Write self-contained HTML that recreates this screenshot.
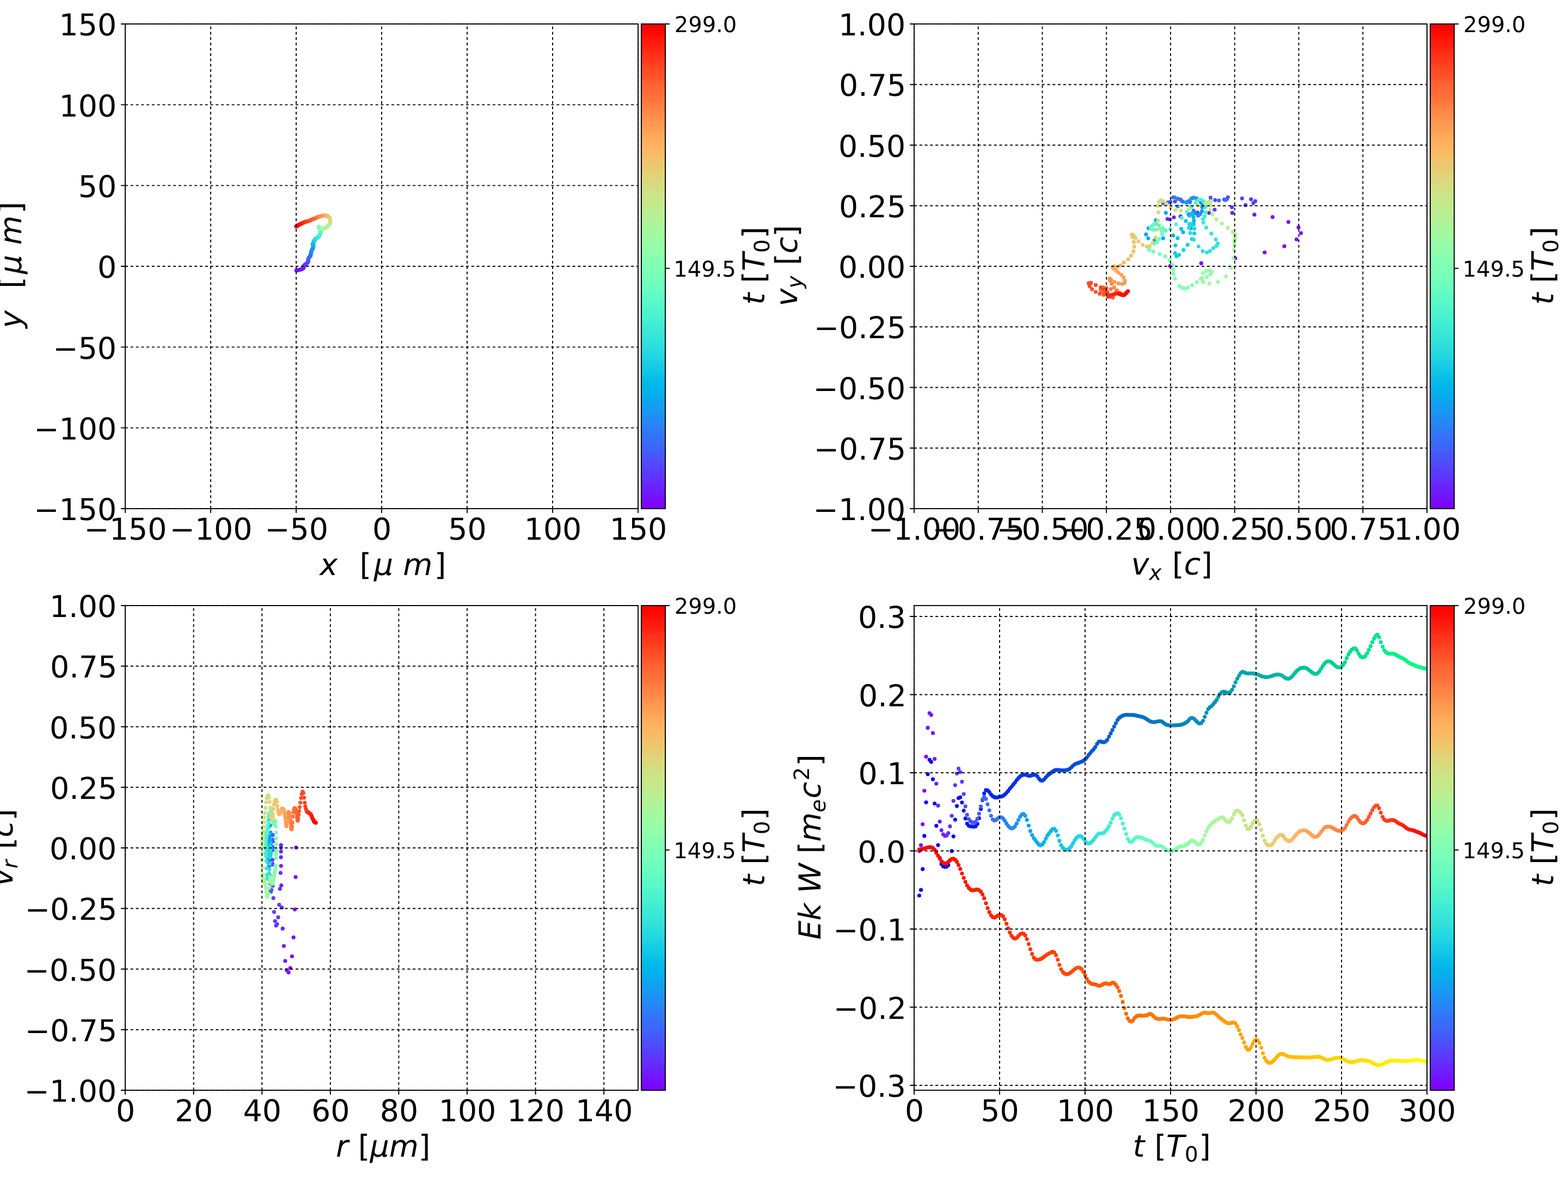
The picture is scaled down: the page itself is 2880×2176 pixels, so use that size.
<!DOCTYPE html>
<html lang="en"><head><meta charset="utf-8"><title>Particle trajectory: x-y, vx-vy, r-vr, Ek W vs t</title>
<style>
html,body{margin:0;padding:0;background:#fff}
body{width:2880px;height:2176px;overflow:hidden}
svg{display:block}
text{font-family:"DejaVu Sans","Liberation Sans",sans-serif;fill:#000;text-rendering:geometricPrecision}
text.i{font-style:oblique}
.s{fill:none;stroke:#000;stroke-width:1.9;stroke-linecap:butt;stroke-linejoin:miter}
.g{fill:none;stroke:#000;stroke-width:1.9;stroke-dasharray:5 4.78}
circle{r:3.6px}
</style></head><body>
<svg xmlns="http://www.w3.org/2000/svg" width="2880" height="2176" viewBox="0 0 2880 2176">
<defs>
<linearGradient id="g1" x1="0" y1="1" x2="0" y2="0"><stop offset="0" stop-color="#8000ff"/><stop offset="0.02" stop-color="#780dff"/><stop offset="0.03" stop-color="#7019ff"/><stop offset="0.05" stop-color="#6826fe"/><stop offset="0.06" stop-color="#6032fe"/><stop offset="0.08" stop-color="#583efd"/><stop offset="0.09" stop-color="#504afc"/><stop offset="0.11" stop-color="#4856fb"/><stop offset="0.12" stop-color="#4062fa"/><stop offset="0.14" stop-color="#386df9"/><stop offset="0.16" stop-color="#3079f7"/><stop offset="0.17" stop-color="#2884f6"/><stop offset="0.19" stop-color="#208ef4"/><stop offset="0.2" stop-color="#1898f2"/><stop offset="0.22" stop-color="#10a2f0"/><stop offset="0.23" stop-color="#08acee"/><stop offset="0.25" stop-color="#00b5eb"/><stop offset="0.27" stop-color="#08bee9"/><stop offset="0.28" stop-color="#10c6e6"/><stop offset="0.3" stop-color="#18cde4"/><stop offset="0.31" stop-color="#20d5e1"/><stop offset="0.33" stop-color="#28dbde"/><stop offset="0.34" stop-color="#30e1da"/><stop offset="0.36" stop-color="#38e7d7"/><stop offset="0.38" stop-color="#40ecd4"/><stop offset="0.39" stop-color="#48f1d0"/><stop offset="0.41" stop-color="#50f4cc"/><stop offset="0.42" stop-color="#58f8c9"/><stop offset="0.44" stop-color="#60fac5"/><stop offset="0.45" stop-color="#68fcc1"/><stop offset="0.47" stop-color="#70febc"/><stop offset="0.48" stop-color="#78ffb8"/><stop offset="0.5" stop-color="#80ffb4"/><stop offset="0.52" stop-color="#88ffaf"/><stop offset="0.53" stop-color="#90feab"/><stop offset="0.55" stop-color="#99fca6"/><stop offset="0.56" stop-color="#a0faa1"/><stop offset="0.58" stop-color="#a8f79c"/><stop offset="0.59" stop-color="#b0f397"/><stop offset="0.61" stop-color="#b9ef92"/><stop offset="0.62" stop-color="#c0eb8d"/><stop offset="0.64" stop-color="#c8e688"/><stop offset="0.66" stop-color="#d0e082"/><stop offset="0.67" stop-color="#d9da7d"/><stop offset="0.69" stop-color="#e0d377"/><stop offset="0.7" stop-color="#e8cb72"/><stop offset="0.72" stop-color="#f0c46c"/><stop offset="0.73" stop-color="#f9bb66"/><stop offset="0.75" stop-color="#ffb360"/><stop offset="0.77" stop-color="#ffa95b"/><stop offset="0.78" stop-color="#ffa055"/><stop offset="0.8" stop-color="#ff964f"/><stop offset="0.81" stop-color="#ff8c49"/><stop offset="0.83" stop-color="#ff8143"/><stop offset="0.84" stop-color="#ff763d"/><stop offset="0.86" stop-color="#ff6b37"/><stop offset="0.88" stop-color="#ff5f30"/><stop offset="0.89" stop-color="#ff532a"/><stop offset="0.91" stop-color="#ff4724"/><stop offset="0.92" stop-color="#ff3b1e"/><stop offset="0.94" stop-color="#ff2f18"/><stop offset="0.95" stop-color="#ff2211"/><stop offset="0.97" stop-color="#ff160b"/><stop offset="0.98" stop-color="#ff0905"/><stop offset="1" stop-color="#ff0000"/></linearGradient>
</defs>
<rect width="2880" height="2176" fill="#fff"/>
<g class="tl"><circle cx="544.3" cy="496.5" fill="#8000ff"/>
<circle cx="544.7" cy="496.5" fill="#8000ff"/>
<circle cx="545.5" cy="496.4" fill="#7e03ff"/>
<circle cx="546.6" cy="496.2" fill="#7c06ff"/>
<circle cx="548.0" cy="496.0" fill="#7a09ff"/>
<circle cx="549.6" cy="495.6" fill="#780dff"/>
<circle cx="551.2" cy="495.2" fill="#7610ff"/>
<circle cx="552.7" cy="494.7" fill="#7413ff"/>
<circle cx="554.2" cy="494.2" fill="#7413ff"/>
<circle cx="555.4" cy="493.6" fill="#7216ff"/>
<circle cx="556.5" cy="493.0" fill="#7019ff"/>
<circle cx="557.2" cy="492.3" fill="#6e1cff"/>
<circle cx="557.7" cy="491.7" fill="#6c1fff"/>
<circle cx="557.9" cy="491.0" fill="#6a22fe"/>
<circle cx="557.9" cy="490.4" fill="#6826fe"/>
<circle cx="557.9" cy="489.9" fill="#6826fe"/>
<circle cx="557.9" cy="489.3" fill="#6629fe"/>
<circle cx="558.0" cy="488.7" fill="#642cfe"/>
<circle cx="558.4" cy="488.0" fill="#622ffe"/>
<circle cx="558.9" cy="487.3" fill="#6032fe"/>
<circle cx="559.6" cy="486.6" fill="#5e35fe"/>
<circle cx="560.6" cy="485.8" fill="#5c38fd"/>
<circle cx="561.6" cy="485.1" fill="#5a3bfd"/>
<circle cx="562.6" cy="484.3" fill="#5a3bfd"/>
<circle cx="563.6" cy="483.4" fill="#583efd"/>
<circle cx="564.5" cy="482.6" fill="#5641fd"/>
<circle cx="565.2" cy="481.8" fill="#5444fd"/>
<circle cx="565.7" cy="481.0" fill="#5247fc"/>
<circle cx="566.0" cy="480.1" fill="#504afc"/>
<circle cx="566.2" cy="479.3" fill="#4e4dfc"/>
<circle cx="566.3" cy="478.5" fill="#4e4dfc"/>
<circle cx="566.2" cy="477.8" fill="#4c50fc"/>
<circle cx="566.1" cy="477.0" fill="#4a53fb"/>
<circle cx="566.1" cy="476.2" fill="#4856fb"/>
<circle cx="566.3" cy="475.4" fill="#4659fb"/>
<circle cx="566.6" cy="474.5" fill="#445cfb"/>
<circle cx="567.1" cy="473.7" fill="#425ffa"/>
<circle cx="567.7" cy="472.9" fill="#4062fa"/>
<circle cx="568.4" cy="472.1" fill="#4062fa"/>
<circle cx="569.1" cy="471.3" fill="#3e65fa"/>
<circle cx="569.7" cy="470.4" fill="#3c68f9"/>
<circle cx="570.2" cy="469.6" fill="#396bf9"/>
<circle cx="570.5" cy="468.9" fill="#386df9"/>
<circle cx="570.8" cy="468.1" fill="#3670f8"/>
<circle cx="570.9" cy="467.3" fill="#3473f8"/>
<circle cx="571.1" cy="466.5" fill="#3473f8"/>
<circle cx="571.1" cy="465.7" fill="#3176f8"/>
<circle cx="571.2" cy="464.8" fill="#3079f7"/>
<circle cx="571.2" cy="464.0" fill="#2e7bf7"/>
<circle cx="571.3" cy="463.1" fill="#2c7ef7"/>
<circle cx="571.5" cy="462.4" fill="#2981f6"/>
<circle cx="571.8" cy="461.6" fill="#2884f6"/>
<circle cx="572.0" cy="461.0" fill="#2884f6"/>
<circle cx="572.3" cy="460.3" fill="#2686f5"/>
<circle cx="572.7" cy="459.7" fill="#2489f5"/>
<circle cx="573.0" cy="459.1" fill="#218cf4"/>
<circle cx="573.4" cy="458.4" fill="#208ef4"/>
<circle cx="573.8" cy="457.7" fill="#1e91f3"/>
<circle cx="574.2" cy="457.0" fill="#1c93f3"/>
<circle cx="574.5" cy="456.2" fill="#1996f3"/>
<circle cx="574.9" cy="455.4" fill="#1996f3"/>
<circle cx="575.2" cy="454.6" fill="#1898f2"/>
<circle cx="575.4" cy="453.8" fill="#169bf2"/>
<circle cx="575.6" cy="453.0" fill="#149df1"/>
<circle cx="575.7" cy="452.2" fill="#11a0f1"/>
<circle cx="575.6" cy="451.6" fill="#10a2f0"/>
<circle cx="575.5" cy="451.0" fill="#0ea5ef"/>
<circle cx="575.2" cy="450.6" fill="#0ea5ef"/>
<circle cx="574.9" cy="450.2" fill="#0ca7ef"/>
<circle cx="574.6" cy="449.8" fill="#09a9ee"/>
<circle cx="574.4" cy="449.5" fill="#08acee"/>
<circle cx="574.3" cy="449.2" fill="#06aeed"/>
<circle cx="574.4" cy="448.8" fill="#04b0ed"/>
<circle cx="574.5" cy="448.4" fill="#01b3ec"/>
<circle cx="574.8" cy="447.9" fill="#00b5eb"/>
<circle cx="575.0" cy="447.4" fill="#00b5eb"/>
<circle cx="575.3" cy="446.8" fill="#02b7eb"/>
<circle cx="575.6" cy="446.2" fill="#04b9ea"/>
<circle cx="575.9" cy="445.6" fill="#07bbea"/>
<circle cx="576.1" cy="444.9" fill="#08bee9"/>
<circle cx="576.4" cy="444.3" fill="#0ac0e8"/>
<circle cx="576.6" cy="443.8" fill="#0dc2e8"/>
<circle cx="576.7" cy="443.3" fill="#0dc2e8"/>
<circle cx="576.8" cy="443.0" fill="#0fc4e7"/>
<circle cx="576.8" cy="442.7" fill="#10c6e6"/>
<circle cx="576.9" cy="442.5" fill="#12c8e6"/>
<circle cx="577.0" cy="442.4" fill="#14cae5"/>
<circle cx="577.1" cy="442.3" fill="#17cbe4"/>
<circle cx="577.2" cy="442.1" fill="#18cde4"/>
<circle cx="577.4" cy="441.8" fill="#18cde4"/>
<circle cx="577.7" cy="441.5" fill="#1acfe3"/>
<circle cx="578.0" cy="441.1" fill="#1dd1e2"/>
<circle cx="578.3" cy="440.6" fill="#1fd3e1"/>
<circle cx="578.5" cy="440.1" fill="#20d5e1"/>
<circle cx="578.8" cy="439.6" fill="#22d6e0"/>
<circle cx="579.0" cy="439.1" fill="#24d8df"/>
<circle cx="579.2" cy="438.6" fill="#27dade"/>
<circle cx="579.5" cy="438.2" fill="#27dade"/>
<circle cx="579.8" cy="437.9" fill="#28dbde"/>
<circle cx="580.1" cy="437.6" fill="#2adddd"/>
<circle cx="580.5" cy="437.4" fill="#2ddedc"/>
<circle cx="580.9" cy="437.3" fill="#2fe0db"/>
<circle cx="581.4" cy="437.1" fill="#30e1da"/>
<circle cx="582.0" cy="436.9" fill="#32e3da"/>
<circle cx="582.5" cy="436.6" fill="#32e3da"/>
<circle cx="583.1" cy="436.3" fill="#34e4d9"/>
<circle cx="583.6" cy="436.0" fill="#37e6d8"/>
<circle cx="584.1" cy="435.6" fill="#38e7d7"/>
<circle cx="584.6" cy="435.1" fill="#3ae8d6"/>
<circle cx="585.0" cy="434.6" fill="#3dead5"/>
<circle cx="585.4" cy="434.0" fill="#3febd5"/>
<circle cx="585.8" cy="433.4" fill="#40ecd4"/>
<circle cx="586.2" cy="432.8" fill="#40ecd4"/>
<circle cx="586.7" cy="432.0" fill="#42edd3"/>
<circle cx="587.1" cy="431.3" fill="#44eed2"/>
<circle cx="587.5" cy="430.5" fill="#46efd1"/>
<circle cx="587.9" cy="429.6" fill="#48f1d0"/>
<circle cx="588.2" cy="428.8" fill="#4af2cf"/>
<circle cx="588.5" cy="428.1" fill="#4df3ce"/>
<circle cx="588.7" cy="427.3" fill="#4df3ce"/>
<circle cx="588.9" cy="426.7" fill="#4ef3cd"/>
<circle cx="589.1" cy="426.1" fill="#50f4cc"/>
<circle cx="589.1" cy="425.5" fill="#52f5cb"/>
<circle cx="589.1" cy="425.1" fill="#54f6cb"/>
<circle cx="589.1" cy="424.7" fill="#56f7ca"/>
<circle cx="589.0" cy="424.2" fill="#58f8c9"/>
<circle cx="588.8" cy="423.7" fill="#58f8c9"/>
<circle cx="588.7" cy="423.2" fill="#5af8c8"/>
<circle cx="588.5" cy="422.6" fill="#5df9c7"/>
<circle cx="588.3" cy="422.1" fill="#5efac6"/>
<circle cx="588.1" cy="421.6" fill="#60fac5"/>
<circle cx="587.8" cy="421.2" fill="#62fbc4"/>
<circle cx="587.6" cy="420.7" fill="#64fbc3"/>
<circle cx="587.4" cy="420.3" fill="#66fcc2"/>
<circle cx="587.2" cy="419.8" fill="#66fcc2"/>
<circle cx="587.1" cy="419.4" fill="#68fcc1"/>
<circle cx="587.0" cy="418.9" fill="#6afdc0"/>
<circle cx="586.9" cy="418.5" fill="#6dfdbf"/>
<circle cx="586.7" cy="418.2" fill="#6efebe"/>
<circle cx="586.6" cy="417.9" fill="#70febc"/>
<circle cx="586.4" cy="417.6" fill="#72febb"/>
<circle cx="586.1" cy="417.4" fill="#72febb"/>
<circle cx="585.8" cy="417.2" fill="#74feba"/>
<circle cx="585.6" cy="417.0" fill="#76ffb9"/>
<circle cx="585.5" cy="416.9" fill="#78ffb8"/>
<circle cx="585.4" cy="416.7" fill="#7affb7"/>
<circle cx="585.4" cy="416.7" fill="#7dffb6"/>
<circle cx="585.4" cy="416.7" fill="#7effb5"/>
<circle cx="585.5" cy="416.7" fill="#80ffb4"/>
<circle cx="585.5" cy="416.8" fill="#80ffb4"/>
<circle cx="585.6" cy="416.9" fill="#82ffb3"/>
<circle cx="585.7" cy="417.2" fill="#84ffb2"/>
<circle cx="585.8" cy="417.4" fill="#86ffb0"/>
<circle cx="586.0" cy="417.7" fill="#88ffaf"/>
<circle cx="586.2" cy="418.0" fill="#8bfeae"/>
<circle cx="586.5" cy="418.2" fill="#8cfead"/>
<circle cx="586.8" cy="418.4" fill="#8cfead"/>
<circle cx="587.2" cy="418.6" fill="#8efeac"/>
<circle cx="587.6" cy="418.7" fill="#90feab"/>
<circle cx="588.1" cy="418.8" fill="#92fda9"/>
<circle cx="588.6" cy="418.8" fill="#94fda8"/>
<circle cx="589.1" cy="418.9" fill="#96fca7"/>
<circle cx="589.5" cy="419.0" fill="#99fca6"/>
<circle cx="589.9" cy="419.0" fill="#99fca6"/>
<circle cx="590.3" cy="419.2" fill="#9bfba5"/>
<circle cx="590.7" cy="419.4" fill="#9cfba4"/>
<circle cx="591.2" cy="419.6" fill="#9efaa2"/>
<circle cx="591.8" cy="419.8" fill="#a0faa1"/>
<circle cx="592.4" cy="419.9" fill="#a2f9a0"/>
<circle cx="593.2" cy="419.9" fill="#a4f89f"/>
<circle cx="594.0" cy="419.8" fill="#a6f89d"/>
<circle cx="594.7" cy="419.6" fill="#a6f89d"/>
<circle cx="595.5" cy="419.4" fill="#a8f79c"/>
<circle cx="596.3" cy="419.1" fill="#abf69b"/>
<circle cx="597.1" cy="418.7" fill="#acf59a"/>
<circle cx="597.9" cy="418.4" fill="#aef498"/>
<circle cx="598.7" cy="418.0" fill="#b0f397"/>
<circle cx="599.5" cy="417.6" fill="#b2f396"/>
<circle cx="600.2" cy="417.2" fill="#b2f396"/>
<circle cx="600.9" cy="416.7" fill="#b4f295"/>
<circle cx="601.5" cy="416.2" fill="#b6f193"/>
<circle cx="602.1" cy="415.6" fill="#b9ef92"/>
<circle cx="602.6" cy="415.0" fill="#bbee91"/>
<circle cx="603.1" cy="414.3" fill="#bced8f"/>
<circle cx="603.6" cy="413.6" fill="#beec8e"/>
<circle cx="604.1" cy="412.8" fill="#c0eb8d"/>
<circle cx="604.6" cy="412.0" fill="#c0eb8d"/>
<circle cx="605.0" cy="411.2" fill="#c2ea8c"/>
<circle cx="605.5" cy="410.4" fill="#c4e88a"/>
<circle cx="605.9" cy="409.6" fill="#c6e789"/>
<circle cx="606.3" cy="408.9" fill="#c8e688"/>
<circle cx="606.5" cy="408.2" fill="#cbe486"/>
<circle cx="606.6" cy="407.5" fill="#cce385"/>
<circle cx="606.7" cy="406.8" fill="#cce385"/>
<circle cx="606.7" cy="406.1" fill="#cee184"/>
<circle cx="606.6" cy="405.3" fill="#d0e082"/>
<circle cx="606.5" cy="404.5" fill="#d2de81"/>
<circle cx="606.4" cy="403.7" fill="#d4dd80"/>
<circle cx="606.3" cy="402.9" fill="#d6db7e"/>
<circle cx="606.1" cy="402.2" fill="#d9da7d"/>
<circle cx="606.0" cy="401.5" fill="#d9da7d"/>
<circle cx="605.8" cy="401.0" fill="#dbd87b"/>
<circle cx="605.7" cy="400.5" fill="#dcd67a"/>
<circle cx="605.5" cy="400.2" fill="#ded579"/>
<circle cx="605.3" cy="399.9" fill="#e0d377"/>
<circle cx="605.0" cy="399.6" fill="#e2d176"/>
<circle cx="604.7" cy="399.4" fill="#e4cf74"/>
<circle cx="604.4" cy="399.1" fill="#e6cd73"/>
<circle cx="604.0" cy="398.8" fill="#e6cd73"/>
<circle cx="603.5" cy="398.5" fill="#e8cb72"/>
<circle cx="603.1" cy="398.1" fill="#ebca70"/>
<circle cx="602.6" cy="397.7" fill="#ecc86f"/>
<circle cx="602.1" cy="397.3" fill="#eec66d"/>
<circle cx="601.7" cy="397.0" fill="#f0c46c"/>
<circle cx="601.2" cy="396.7" fill="#f2c26b"/>
<circle cx="600.8" cy="396.4" fill="#f2c26b"/>
<circle cx="600.3" cy="396.3" fill="#f4c069"/>
<circle cx="599.8" cy="396.1" fill="#f6be68"/>
<circle cx="599.3" cy="396.0" fill="#f9bb66"/>
<circle cx="598.8" cy="396.0" fill="#fbb965"/>
<circle cx="598.1" cy="396.0" fill="#fcb763"/>
<circle cx="597.5" cy="396.0" fill="#feb562"/>
<circle cx="596.8" cy="396.0" fill="#ffb360"/>
<circle cx="596.1" cy="396.0" fill="#ffb360"/>
<circle cx="595.4" cy="396.0" fill="#ffb05f"/>
<circle cx="594.7" cy="396.0" fill="#ffae5e"/>
<circle cx="594.0" cy="396.0" fill="#ffac5c"/>
<circle cx="593.3" cy="396.1" fill="#ffa95b"/>
<circle cx="592.7" cy="396.1" fill="#ffa759"/>
<circle cx="592.0" cy="396.2" fill="#ffa558"/>
<circle cx="591.4" cy="396.3" fill="#ffa558"/>
<circle cx="590.8" cy="396.5" fill="#ffa256"/>
<circle cx="590.3" cy="396.6" fill="#ffa055"/>
<circle cx="589.7" cy="396.8" fill="#ff9d53"/>
<circle cx="589.1" cy="397.1" fill="#ff9b52"/>
<circle cx="588.5" cy="397.3" fill="#ff9850"/>
<circle cx="587.8" cy="397.5" fill="#ff964f"/>
<circle cx="587.1" cy="397.6" fill="#ff964f"/>
<circle cx="586.3" cy="397.8" fill="#ff934d"/>
<circle cx="585.6" cy="397.9" fill="#ff914c"/>
<circle cx="584.8" cy="398.1" fill="#ff8e4a"/>
<circle cx="584.1" cy="398.3" fill="#ff8c49"/>
<circle cx="583.4" cy="398.6" fill="#ff8947"/>
<circle cx="582.8" cy="398.9" fill="#ff8646"/>
<circle cx="582.2" cy="399.2" fill="#ff8444"/>
<circle cx="581.6" cy="399.5" fill="#ff8444"/>
<circle cx="581.0" cy="399.9" fill="#ff8143"/>
<circle cx="580.4" cy="400.2" fill="#ff7e41"/>
<circle cx="579.7" cy="400.6" fill="#ff7b40"/>
<circle cx="579.1" cy="400.9" fill="#ff793e"/>
<circle cx="578.3" cy="401.2" fill="#ff763d"/>
<circle cx="577.5" cy="401.4" fill="#ff733b"/>
<circle cx="576.7" cy="401.7" fill="#ff733b"/>
<circle cx="575.9" cy="401.9" fill="#ff703a"/>
<circle cx="575.0" cy="402.2" fill="#ff6d38"/>
<circle cx="574.2" cy="402.5" fill="#ff6b37"/>
<circle cx="573.3" cy="402.8" fill="#ff6835"/>
<circle cx="572.6" cy="403.2" fill="#ff6533"/>
<circle cx="571.8" cy="403.5" fill="#ff6232"/>
<circle cx="571.1" cy="403.9" fill="#ff5f30"/>
<circle cx="570.4" cy="404.3" fill="#ff5f30"/>
<circle cx="569.7" cy="404.6" fill="#ff5c2f"/>
<circle cx="568.9" cy="405.0" fill="#ff592d"/>
<circle cx="568.1" cy="405.4" fill="#ff562c"/>
<circle cx="567.2" cy="405.7" fill="#ff532a"/>
<circle cx="566.3" cy="406.0" fill="#ff5029"/>
<circle cx="565.3" cy="406.3" fill="#ff4d27"/>
<circle cx="564.3" cy="406.5" fill="#ff4d27"/>
<circle cx="563.3" cy="406.7" fill="#ff4a26"/>
<circle cx="562.4" cy="406.9" fill="#ff4724"/>
<circle cx="561.4" cy="407.2" fill="#ff4422"/>
<circle cx="560.6" cy="407.4" fill="#ff4121"/>
<circle cx="559.8" cy="407.7" fill="#ff3e1f"/>
<circle cx="559.0" cy="408.0" fill="#ff3b1e"/>
<circle cx="558.2" cy="408.3" fill="#ff3b1e"/>
<circle cx="557.4" cy="408.7" fill="#ff381c"/>
<circle cx="556.7" cy="409.0" fill="#ff351b"/>
<circle cx="555.9" cy="409.4" fill="#ff3219"/>
<circle cx="555.2" cy="409.8" fill="#ff2f18"/>
<circle cx="554.4" cy="410.2" fill="#ff2c16"/>
<circle cx="553.7" cy="410.5" fill="#ff2914"/>
<circle cx="553.0" cy="410.9" fill="#ff2613"/>
<circle cx="552.3" cy="411.2" fill="#ff2613"/>
<circle cx="551.6" cy="411.5" fill="#ff2211"/>
<circle cx="550.9" cy="411.9" fill="#ff1f10"/>
<circle cx="550.2" cy="412.2" fill="#ff1c0e"/>
<circle cx="549.6" cy="412.5" fill="#ff190d"/>
<circle cx="549.0" cy="412.9" fill="#ff160b"/>
<circle cx="548.4" cy="413.2" fill="#ff1309"/>
<circle cx="547.8" cy="413.6" fill="#ff1309"/>
<circle cx="547.2" cy="413.9" fill="#ff1008"/>
<circle cx="546.6" cy="414.3" fill="#ff0d06"/>
<circle cx="546.1" cy="414.6" fill="#ff0905"/>
<circle cx="545.5" cy="415.0" fill="#ff0603"/>
<circle cx="545.0" cy="415.3" fill="#ff0302"/>
<circle cx="544.4" cy="415.6" fill="#ff0000"/>
<circle cx="543.9" cy="415.9" fill="#ff0000"/></g>
<path class="g" d="M230 934V44M387 934V44M544 934V44M701 934V44M858 934V44M1015 934V44M1172 934V44M230 934H1172M230 785.67H1172M230 637.33H1172M230 489H1172M230 340.67H1172M230 192.33H1172M230 44H1172"/>
<path class="s" d="M230 934v8M387 934v8M544 934v8M701 934v8M858 934v8M1015 934v8M1172 934v8M230 934h-8M230 785.67h-8M230 637.33h-8M230 489h-8M230 340.67h-8M230 192.33h-8M230 44h-8"/>
<rect class="s" x="230" y="44" width="942" height="890"/>
<text class="r" x="230.5" y="991.3" font-size="55.3" text-anchor="middle">−150</text>
<text class="r" x="387.5" y="991.3" font-size="55.3" text-anchor="middle">−100</text>
<text class="r" x="544.5" y="991.3" font-size="55.3" text-anchor="middle">−50</text>
<text class="r" x="701.5" y="991.3" font-size="55.3" text-anchor="middle">0</text>
<text class="r" x="858.5" y="991.3" font-size="55.3" text-anchor="middle">50</text>
<text class="r" x="1015.5" y="991.3" font-size="55.3" text-anchor="middle">100</text>
<text class="r" x="1172.5" y="991.3" font-size="55.3" text-anchor="middle">150</text>
<text class="r" x="62.19" y="955.2" font-size="55.3">−150</text>
<text class="r" x="62.19" y="806.87" font-size="55.3">−100</text>
<text class="r" x="97.37" y="658.53" font-size="55.3">−50</text>
<text class="r" x="178.89" y="510.2" font-size="55.3">0</text>
<text class="r" x="143.71" y="361.87" font-size="55.3">50</text>
<text class="r" x="108.52" y="213.53" font-size="55.3">100</text>
<text class="r" x="108.52" y="65.2" font-size="55.3">150</text>
<rect x="1178" y="44" width="44" height="890" fill="url(#g1)"/>
<rect class="s" x="1178" y="44" width="44" height="890"/>
<path class="s" d="M1222 44h8M1222 492.7h8"/>
<text class="r" x="1238.77" y="58.8" font-size="40">299.0</text>
<text class="r" x="1237.31" y="507.5" font-size="40">149.5</text>
<text class="i" x="1403.8" y="559.52" font-size="55.56" transform="rotate(-90 1403.8 559.52)">t</text>
<text class="r" x="1403.8" y="519.74" font-size="55.56" transform="rotate(-90 1403.8 519.74)">[</text>
<text class="i" x="1403.8" y="498.08" font-size="55.56" transform="rotate(-90 1403.8 498.08)">T</text>
<text class="r" x="1412.99" y="464.18" font-size="38.89" transform="rotate(-90 1412.99 464.18)">0</text>
<text class="r" x="1403.8" y="437.93" font-size="55.56" transform="rotate(-90 1403.8 437.93)">]</text>
<text class="i" x="587.31" y="1055.8" font-size="55.56">x</text>
<text class="r" x="660.4" y="1055.8" font-size="55.56">[</text>
<text class="i" x="686.86" y="1055.8" font-size="55.56">μ</text>
<text class="i" x="740.22" y="1055.8" font-size="55.56">m</text>
<text class="r" x="797.87" y="1055.8" font-size="55.56">]</text>
<text class="i" x="39.1" y="602.82" font-size="55.56" transform="rotate(-90 39.1 602.82)">y</text>
<text class="r" x="39.1" y="529.67" font-size="55.56" transform="rotate(-90 39.1 529.67)">[</text>
<text class="i" x="39.1" y="503.21" font-size="55.56" transform="rotate(-90 39.1 503.21)">μ</text>
<text class="i" x="39.1" y="449.85" font-size="55.56" transform="rotate(-90 39.1 449.85)">m</text>
<text class="r" x="39.1" y="392.2" font-size="55.56" transform="rotate(-90 39.1 392.2)">]</text>
<g class="tr"><circle cx="2149.2" cy="488.5" fill="#8000ff"/>
<circle cx="2206.4" cy="483.4" fill="#8000ff"/>
<circle cx="2268.9" cy="474.2" fill="#7e03ff"/>
<circle cx="2322.8" cy="463.5" fill="#7c06ff"/>
<circle cx="2359.0" cy="452.2" fill="#7a09ff"/>
<circle cx="2381.4" cy="439.5" fill="#780dff"/>
<circle cx="2389.5" cy="428.1" fill="#7610ff"/>
<circle cx="2385.0" cy="417.7" fill="#7413ff"/>
<circle cx="2366.5" cy="407.6" fill="#7413ff"/>
<circle cx="2337.4" cy="398.6" fill="#7216ff"/>
<circle cx="2304.0" cy="394.2" fill="#7019ff"/>
<circle cx="2263.4" cy="390.9" fill="#6e1cff"/>
<circle cx="2220.8" cy="391.0" fill="#6c1fff"/>
<circle cx="2183.4" cy="393.8" fill="#6a22fe"/>
<circle cx="2156.1" cy="399.2" fill="#6826fe"/>
<circle cx="2148.7" cy="403.0" fill="#6826fe"/>
<circle cx="2144.3" cy="402.0" fill="#6629fe"/>
<circle cx="2168.4" cy="397.3" fill="#642cfe"/>
<circle cx="2199.3" cy="390.4" fill="#622ffe"/>
<circle cx="2231.0" cy="385.0" fill="#6032fe"/>
<circle cx="2262.6" cy="380.5" fill="#5e35fe"/>
<circle cx="2287.7" cy="376.7" fill="#5c38fd"/>
<circle cx="2302.0" cy="373.1" fill="#5a3bfd"/>
<circle cx="2305.6" cy="369.3" fill="#5a3bfd"/>
<circle cx="2297.8" cy="365.9" fill="#583efd"/>
<circle cx="2281.3" cy="364.3" fill="#5641fd"/>
<circle cx="2255.3" cy="362.3" fill="#5444fd"/>
<circle cx="2231.8" cy="367.3" fill="#5247fc"/>
<circle cx="2190.3" cy="363.8" fill="#504afc"/>
<circle cx="2182.8" cy="369.6" fill="#4e4dfc"/>
<circle cx="2158.1" cy="370.1" fill="#4e4dfc"/>
<circle cx="2144.9" cy="371.9" fill="#4c50fc"/>
<circle cx="2136.5" cy="373.1" fill="#4a53fb"/>
<circle cx="2150.0" cy="370.7" fill="#4856fb"/>
<circle cx="2168.2" cy="366.4" fill="#4659fb"/>
<circle cx="2198.0" cy="364.4" fill="#445cfb"/>
<circle cx="2223.6" cy="362.9" fill="#425ffa"/>
<circle cx="2248.5" cy="366.3" fill="#4062fa"/>
<circle cx="2253.4" cy="365.6" fill="#4062fa"/>
<circle cx="2250.9" cy="367.2" fill="#3e65fa"/>
<circle cx="2238.9" cy="368.1" fill="#3c68f9"/>
<circle cx="2222.9" cy="369.3" fill="#396bf9"/>
<circle cx="2205.6" cy="371.1" fill="#386df9"/>
<circle cx="2185.7" cy="371.2" fill="#3670f8"/>
<circle cx="2172.7" cy="370.3" fill="#3473f8"/>
<circle cx="2170.3" cy="368.6" fill="#3473f8"/>
<circle cx="2163.5" cy="364.9" fill="#3176f8"/>
<circle cx="2157.5" cy="362.5" fill="#3079f7"/>
<circle cx="2154.6" cy="362.6" fill="#2e7bf7"/>
<circle cx="2162.5" cy="365.2" fill="#2c7ef7"/>
<circle cx="2179.2" cy="371.9" fill="#2981f6"/>
<circle cx="2187.7" cy="379.5" fill="#2884f6"/>
<circle cx="2192.3" cy="386.5" fill="#2884f6"/>
<circle cx="2195.2" cy="391.7" fill="#2686f5"/>
<circle cx="2200.2" cy="395.8" fill="#2489f5"/>
<circle cx="2201.6" cy="395.3" fill="#218cf4"/>
<circle cx="2204.7" cy="392.8" fill="#208ef4"/>
<circle cx="2207.6" cy="387.9" fill="#1e91f3"/>
<circle cx="2208.1" cy="380.4" fill="#1c93f3"/>
<circle cx="2207.5" cy="373.6" fill="#1996f3"/>
<circle cx="2199.2" cy="366.1" fill="#1996f3"/>
<circle cx="2192.5" cy="362.9" fill="#1898f2"/>
<circle cx="2187.7" cy="364.8" fill="#169bf2"/>
<circle cx="2180.3" cy="370.7" fill="#149df1"/>
<circle cx="2163.1" cy="379.0" fill="#11a0f1"/>
<circle cx="2141.4" cy="390.8" fill="#10a2f0"/>
<circle cx="2122.8" cy="404.4" fill="#0ea5ef"/>
<circle cx="2109.4" cy="419.2" fill="#0ea5ef"/>
<circle cx="2104.9" cy="430.4" fill="#0ca7ef"/>
<circle cx="2109.0" cy="437.6" fill="#09a9ee"/>
<circle cx="2120.6" cy="441.0" fill="#08acee"/>
<circle cx="2136.4" cy="437.6" fill="#06aeed"/>
<circle cx="2154.8" cy="432.4" fill="#04b0ed"/>
<circle cx="2173.2" cy="426.5" fill="#01b3ec"/>
<circle cx="2186.6" cy="419.3" fill="#00b5eb"/>
<circle cx="2192.5" cy="411.5" fill="#00b5eb"/>
<circle cx="2192.9" cy="405.2" fill="#02b7eb"/>
<circle cx="2192.0" cy="398.8" fill="#04b9ea"/>
<circle cx="2190.6" cy="393.5" fill="#07bbea"/>
<circle cx="2188.7" cy="391.9" fill="#08bee9"/>
<circle cx="2184.9" cy="395.8" fill="#0ac0e8"/>
<circle cx="2178.0" cy="405.8" fill="#0dc2e8"/>
<circle cx="2169.7" cy="420.4" fill="#0dc2e8"/>
<circle cx="2162.9" cy="437.4" fill="#0fc4e7"/>
<circle cx="2158.9" cy="450.6" fill="#10c6e6"/>
<circle cx="2158.2" cy="464.9" fill="#12c8e6"/>
<circle cx="2161.1" cy="470.7" fill="#14cae5"/>
<circle cx="2165.6" cy="468.0" fill="#17cbe4"/>
<circle cx="2173.8" cy="459.1" fill="#18cde4"/>
<circle cx="2181.3" cy="449.6" fill="#18cde4"/>
<circle cx="2189.2" cy="438.8" fill="#1acfe3"/>
<circle cx="2193.7" cy="428.7" fill="#1dd1e2"/>
<circle cx="2193.7" cy="419.9" fill="#1fd3e1"/>
<circle cx="2190.0" cy="413.5" fill="#20d5e1"/>
<circle cx="2186.9" cy="410.8" fill="#22d6e0"/>
<circle cx="2184.4" cy="411.6" fill="#24d8df"/>
<circle cx="2183.8" cy="418.1" fill="#27dade"/>
<circle cx="2186.1" cy="427.8" fill="#27dade"/>
<circle cx="2192.8" cy="440.0" fill="#28dbde"/>
<circle cx="2201.4" cy="452.5" fill="#2adddd"/>
<circle cx="2209.0" cy="461.1" fill="#2ddedc"/>
<circle cx="2216.7" cy="463.6" fill="#2fe0db"/>
<circle cx="2222.4" cy="460.8" fill="#30e1da"/>
<circle cx="2228.5" cy="455.6" fill="#32e3da"/>
<circle cx="2234.4" cy="451.7" fill="#32e3da"/>
<circle cx="2236.7" cy="447.1" fill="#34e4d9"/>
<circle cx="2233.1" cy="439.7" fill="#37e6d8"/>
<circle cx="2224.8" cy="428.9" fill="#38e7d7"/>
<circle cx="2215.4" cy="417.9" fill="#3ae8d6"/>
<circle cx="2210.4" cy="408.6" fill="#3dead5"/>
<circle cx="2209.5" cy="402.3" fill="#3febd5"/>
<circle cx="2212.7" cy="397.3" fill="#40ecd4"/>
<circle cx="2214.8" cy="390.0" fill="#40ecd4"/>
<circle cx="2213.9" cy="380.5" fill="#42edd3"/>
<circle cx="2213.0" cy="373.6" fill="#44eed2"/>
<circle cx="2210.4" cy="369.4" fill="#46efd1"/>
<circle cx="2205.8" cy="366.6" fill="#48f1d0"/>
<circle cx="2201.0" cy="366.8" fill="#4af2cf"/>
<circle cx="2196.1" cy="372.2" fill="#4df3ce"/>
<circle cx="2186.8" cy="379.5" fill="#4df3ce"/>
<circle cx="2179.9" cy="388.9" fill="#4ef3cd"/>
<circle cx="2170.6" cy="400.2" fill="#50f4cc"/>
<circle cx="2159.9" cy="412.1" fill="#52f5cb"/>
<circle cx="2149.4" cy="420.6" fill="#54f6cb"/>
<circle cx="2140.9" cy="423.4" fill="#56f7ca"/>
<circle cx="2135.7" cy="419.2" fill="#58f8c9"/>
<circle cx="2128.7" cy="413.8" fill="#58f8c9"/>
<circle cx="2123.0" cy="411.3" fill="#5af8c8"/>
<circle cx="2123.5" cy="410.1" fill="#5df9c7"/>
<circle cx="2119.1" cy="412.4" fill="#5efac6"/>
<circle cx="2115.3" cy="415.3" fill="#60fac5"/>
<circle cx="2113.5" cy="418.2" fill="#62fbc4"/>
<circle cx="2115.1" cy="420.5" fill="#64fbc3"/>
<circle cx="2118.7" cy="421.9" fill="#66fcc2"/>
<circle cx="2123.9" cy="421.7" fill="#66fcc2"/>
<circle cx="2132.6" cy="420.5" fill="#68fcc1"/>
<circle cx="2134.2" cy="424.4" fill="#6afdc0"/>
<circle cx="2134.6" cy="430.2" fill="#6dfdbf"/>
<circle cx="2129.0" cy="439.2" fill="#6efebe"/>
<circle cx="2124.9" cy="444.8" fill="#70febc"/>
<circle cx="2119.4" cy="447.3" fill="#72febb"/>
<circle cx="2111.4" cy="453.7" fill="#72febb"/>
<circle cx="2110.6" cy="459.1" fill="#74feba"/>
<circle cx="2118.3" cy="461.8" fill="#76ffb9"/>
<circle cx="2130.1" cy="466.5" fill="#78ffb8"/>
<circle cx="2140.1" cy="470.9" fill="#7affb7"/>
<circle cx="2148.6" cy="478.4" fill="#7dffb6"/>
<circle cx="2154.2" cy="486.5" fill="#7effb5"/>
<circle cx="2155.0" cy="494.7" fill="#80ffb4"/>
<circle cx="2155.6" cy="502.8" fill="#80ffb4"/>
<circle cx="2158.2" cy="511.6" fill="#82ffb3"/>
<circle cx="2166.1" cy="525.2" fill="#84ffb2"/>
<circle cx="2171.7" cy="528.6" fill="#86ffb0"/>
<circle cx="2176.3" cy="529.8" fill="#88ffaf"/>
<circle cx="2182.0" cy="527.9" fill="#8bfeae"/>
<circle cx="2189.9" cy="523.8" fill="#8cfead"/>
<circle cx="2198.2" cy="518.2" fill="#8cfead"/>
<circle cx="2208.3" cy="510.9" fill="#8efeac"/>
<circle cx="2216.6" cy="508.3" fill="#90feab"/>
<circle cx="2223.5" cy="503.9" fill="#92fda9"/>
<circle cx="2225.6" cy="498.7" fill="#94fda8"/>
<circle cx="2221.4" cy="496.9" fill="#96fca7"/>
<circle cx="2215.4" cy="497.3" fill="#99fca6"/>
<circle cx="2209.4" cy="501.7" fill="#99fca6"/>
<circle cx="2205.7" cy="512.1" fill="#9bfba5"/>
<circle cx="2210.1" cy="517.6" fill="#9cfba4"/>
<circle cx="2221.2" cy="520.7" fill="#9efaa2"/>
<circle cx="2237.2" cy="517.7" fill="#a0faa1"/>
<circle cx="2251.7" cy="507.7" fill="#a2f9a0"/>
<circle cx="2261.2" cy="491.8" fill="#a4f89f"/>
<circle cx="2265.7" cy="473.7" fill="#a6f89d"/>
<circle cx="2266.8" cy="459.2" fill="#a6f89d"/>
<circle cx="2267.0" cy="449.0" fill="#a8f79c"/>
<circle cx="2267.3" cy="443.4" fill="#abf69b"/>
<circle cx="2268.1" cy="440.3" fill="#acf59a"/>
<circle cx="2268.7" cy="436.9" fill="#aef498"/>
<circle cx="2268.9" cy="433.1" fill="#b0f397"/>
<circle cx="2268.2" cy="429.5" fill="#b2f396"/>
<circle cx="2264.1" cy="425.7" fill="#b2f396"/>
<circle cx="2255.0" cy="418.4" fill="#b4f295"/>
<circle cx="2244.3" cy="410.6" fill="#b6f193"/>
<circle cx="2234.4" cy="402.7" fill="#b9ef92"/>
<circle cx="2226.6" cy="393.6" fill="#bbee91"/>
<circle cx="2222.9" cy="385.0" fill="#bced8f"/>
<circle cx="2223.0" cy="377.2" fill="#beec8e"/>
<circle cx="2223.2" cy="371.6" fill="#c0eb8d"/>
<circle cx="2222.9" cy="369.8" fill="#c0eb8d"/>
<circle cx="2221.3" cy="370.1" fill="#c2ea8c"/>
<circle cx="2219.0" cy="371.6" fill="#c4e88a"/>
<circle cx="2214.0" cy="374.1" fill="#c6e789"/>
<circle cx="2200.4" cy="377.6" fill="#c8e688"/>
<circle cx="2183.9" cy="383.1" fill="#cbe486"/>
<circle cx="2168.9" cy="386.8" fill="#cce385"/>
<circle cx="2158.8" cy="386.0" fill="#cce385"/>
<circle cx="2150.3" cy="380.8" fill="#cee184"/>
<circle cx="2142.4" cy="374.0" fill="#d0e082"/>
<circle cx="2136.4" cy="369.3" fill="#d2de81"/>
<circle cx="2132.0" cy="367.6" fill="#d4dd80"/>
<circle cx="2128.3" cy="371.0" fill="#d6db7e"/>
<circle cx="2126.9" cy="378.3" fill="#d9da7d"/>
<circle cx="2127.5" cy="389.9" fill="#d9da7d"/>
<circle cx="2127.4" cy="405.2" fill="#dbd87b"/>
<circle cx="2126.2" cy="421.0" fill="#dcd67a"/>
<circle cx="2122.4" cy="435.8" fill="#ded579"/>
<circle cx="2117.4" cy="446.4" fill="#e0d377"/>
<circle cx="2111.5" cy="451.6" fill="#e2d176"/>
<circle cx="2106.2" cy="453.0" fill="#e4cf74"/>
<circle cx="2098.8" cy="449.7" fill="#e6cd73"/>
<circle cx="2091.0" cy="443.3" fill="#e6cd73"/>
<circle cx="2085.7" cy="437.0" fill="#e8cb72"/>
<circle cx="2082.6" cy="432.5" fill="#ebca70"/>
<circle cx="2079.7" cy="430.7" fill="#ecc86f"/>
<circle cx="2078.5" cy="431.3" fill="#eec66d"/>
<circle cx="2080.4" cy="435.4" fill="#f0c46c"/>
<circle cx="2082.6" cy="444.3" fill="#f2c26b"/>
<circle cx="2083.3" cy="453.2" fill="#f2c26b"/>
<circle cx="2081.8" cy="461.6" fill="#f4c069"/>
<circle cx="2077.7" cy="469.3" fill="#f6be68"/>
<circle cx="2072.4" cy="476.1" fill="#f9bb66"/>
<circle cx="2064.2" cy="482.2" fill="#fbb965"/>
<circle cx="2057.7" cy="487.5" fill="#fcb763"/>
<circle cx="2052.7" cy="490.0" fill="#feb562"/>
<circle cx="2048.0" cy="490.8" fill="#ffb360"/>
<circle cx="2045.7" cy="489.2" fill="#ffb360"/>
<circle cx="2044.5" cy="490.0" fill="#ffb05f"/>
<circle cx="2043.9" cy="491.2" fill="#ffae5e"/>
<circle cx="2044.6" cy="492.4" fill="#ffac5c"/>
<circle cx="2047.0" cy="494.1" fill="#ffa95b"/>
<circle cx="2050.7" cy="497.7" fill="#ffa759"/>
<circle cx="2054.6" cy="501.0" fill="#ffa558"/>
<circle cx="2059.6" cy="504.6" fill="#ffa558"/>
<circle cx="2063.9" cy="509.7" fill="#ffa256"/>
<circle cx="2066.3" cy="515.7" fill="#ffa055"/>
<circle cx="2065.4" cy="519.7" fill="#ff9d53"/>
<circle cx="2060.7" cy="521.5" fill="#ff9b52"/>
<circle cx="2054.3" cy="520.4" fill="#ff9850"/>
<circle cx="2047.1" cy="517.5" fill="#ff964f"/>
<circle cx="2040.8" cy="513.5" fill="#ff964f"/>
<circle cx="2038.3" cy="511.5" fill="#ff934d"/>
<circle cx="2038.1" cy="513.7" fill="#ff914c"/>
<circle cx="2039.0" cy="515.4" fill="#ff8e4a"/>
<circle cx="2041.7" cy="521.1" fill="#ff8c49"/>
<circle cx="2046.4" cy="527.8" fill="#ff8947"/>
<circle cx="2051.5" cy="533.1" fill="#ff8646"/>
<circle cx="2056.6" cy="537.4" fill="#ff8444"/>
<circle cx="2059.7" cy="539.7" fill="#ff8444"/>
<circle cx="2061.0" cy="540.9" fill="#ff8143"/>
<circle cx="2059.6" cy="540.4" fill="#ff7e41"/>
<circle cx="2056.2" cy="538.8" fill="#ff7b40"/>
<circle cx="2050.1" cy="535.7" fill="#ff793e"/>
<circle cx="2040.1" cy="530.8" fill="#ff763d"/>
<circle cx="2031.9" cy="528.7" fill="#ff733b"/>
<circle cx="2026.3" cy="527.7" fill="#ff733b"/>
<circle cx="2023.0" cy="529.1" fill="#ff703a"/>
<circle cx="2021.6" cy="531.5" fill="#ff6d38"/>
<circle cx="2022.1" cy="533.7" fill="#ff6b37"/>
<circle cx="2025.8" cy="536.1" fill="#ff6835"/>
<circle cx="2032.3" cy="539.1" fill="#ff6533"/>
<circle cx="2038.7" cy="542.0" fill="#ff6232"/>
<circle cx="2042.8" cy="544.3" fill="#ff5f30"/>
<circle cx="2044.3" cy="546.4" fill="#ff5f30"/>
<circle cx="2040.7" cy="545.1" fill="#ff5c2f"/>
<circle cx="2034.3" cy="542.7" fill="#ff592d"/>
<circle cx="2027.2" cy="541.3" fill="#ff562c"/>
<circle cx="2019.9" cy="539.4" fill="#ff532a"/>
<circle cx="2012.4" cy="536.0" fill="#ff5029"/>
<circle cx="2005.7" cy="531.1" fill="#ff4d27"/>
<circle cx="2001.3" cy="525.4" fill="#ff4d27"/>
<circle cx="1999.6" cy="520.1" fill="#ff4a26"/>
<circle cx="2003.9" cy="519.4" fill="#ff4724"/>
<circle cx="2012.6" cy="523.3" fill="#ff4422"/>
<circle cx="2021.8" cy="527.5" fill="#ff4121"/>
<circle cx="2028.3" cy="531.3" fill="#ff3e1f"/>
<circle cx="2032.2" cy="534.8" fill="#ff3b1e"/>
<circle cx="2034.1" cy="537.5" fill="#ff3b1e"/>
<circle cx="2034.7" cy="540.9" fill="#ff381c"/>
<circle cx="2035.5" cy="544.2" fill="#ff351b"/>
<circle cx="2035.8" cy="544.8" fill="#ff3219"/>
<circle cx="2036.6" cy="544.5" fill="#ff2f18"/>
<circle cx="2038.4" cy="543.4" fill="#ff2c16"/>
<circle cx="2040.7" cy="542.2" fill="#ff2914"/>
<circle cx="2042.5" cy="541.3" fill="#ff2613"/>
<circle cx="2044.0" cy="541.0" fill="#ff2613"/>
<circle cx="2045.9" cy="540.5" fill="#ff2211"/>
<circle cx="2048.7" cy="539.4" fill="#ff1f10"/>
<circle cx="2051.7" cy="538.8" fill="#ff1c0e"/>
<circle cx="2054.7" cy="538.9" fill="#ff190d"/>
<circle cx="2057.0" cy="540.0" fill="#ff160b"/>
<circle cx="2058.1" cy="540.7" fill="#ff1309"/>
<circle cx="2059.7" cy="541.1" fill="#ff1309"/>
<circle cx="2062.0" cy="541.9" fill="#ff1008"/>
<circle cx="2064.1" cy="541.8" fill="#ff0d06"/>
<circle cx="2065.4" cy="541.1" fill="#ff0905"/>
<circle cx="2066.9" cy="539.8" fill="#ff0603"/>
<circle cx="2068.7" cy="538.2" fill="#ff0302"/>
<circle cx="2070.3" cy="536.1" fill="#ff0000"/>
<circle cx="2071.8" cy="534.5" fill="#ff0000"/></g>
<path class="g" d="M1679 934V44M1796.75 934V44M1914.5 934V44M2032.25 934V44M2150 934V44M2267.75 934V44M2385.5 934V44M2503.25 934V44M2621 934V44M1679 934H2621M1679 822.75H2621M1679 711.5H2621M1679 600.25H2621M1679 489H2621M1679 377.75H2621M1679 266.5H2621M1679 155.25H2621M1679 44H2621"/>
<path class="s" d="M1679 934v8M1796.75 934v8M1914.5 934v8M2032.25 934v8M2150 934v8M2267.75 934v8M2385.5 934v8M2503.25 934v8M2621 934v8M1679 934h-8M1679 822.75h-8M1679 711.5h-8M1679 600.25h-8M1679 489h-8M1679 377.75h-8M1679 266.5h-8M1679 155.25h-8M1679 44h-8"/>
<rect class="s" x="1679" y="44" width="942" height="890"/>
<text class="r" x="1679.5" y="991.3" font-size="55.3" text-anchor="middle">−1.00</text>
<text class="r" x="1797.25" y="991.3" font-size="55.3" text-anchor="middle">−0.75</text>
<text class="r" x="1915" y="991.3" font-size="55.3" text-anchor="middle">−0.50</text>
<text class="r" x="2032.75" y="991.3" font-size="55.3" text-anchor="middle">−0.25</text>
<text class="r" x="2150.5" y="991.3" font-size="55.3" text-anchor="middle">0.00</text>
<text class="r" x="2268.25" y="991.3" font-size="55.3" text-anchor="middle">0.25</text>
<text class="r" x="2386" y="991.3" font-size="55.3" text-anchor="middle">0.50</text>
<text class="r" x="2503.75" y="991.3" font-size="55.3" text-anchor="middle">0.75</text>
<text class="r" x="2621.5" y="991.3" font-size="55.3" text-anchor="middle">1.00</text>
<text class="r" x="1493.61" y="955.2" font-size="55.3">−1.00</text>
<text class="r" x="1494.77" y="843.95" font-size="55.3">−0.75</text>
<text class="r" x="1493.61" y="732.7" font-size="55.3">−0.50</text>
<text class="r" x="1494.77" y="621.45" font-size="55.3">−0.25</text>
<text class="r" x="1539.94" y="510.2" font-size="55.3">0.00</text>
<text class="r" x="1541.1" y="398.95" font-size="55.3">0.25</text>
<text class="r" x="1539.94" y="287.7" font-size="55.3">0.50</text>
<text class="r" x="1541.1" y="176.45" font-size="55.3">0.75</text>
<text class="r" x="1539.94" y="65.2" font-size="55.3">1.00</text>
<rect x="2627" y="44" width="44" height="890" fill="url(#g1)"/>
<rect class="s" x="2627" y="44" width="44" height="890"/>
<path class="s" d="M2671 44h8M2671 492.7h8"/>
<text class="r" x="2687.77" y="58.8" font-size="40">299.0</text>
<text class="r" x="2686.31" y="507.5" font-size="40">149.5</text>
<text class="i" x="2852.8" y="559.52" font-size="55.56" transform="rotate(-90 2852.8 559.52)">t</text>
<text class="r" x="2852.8" y="519.74" font-size="55.56" transform="rotate(-90 2852.8 519.74)">[</text>
<text class="i" x="2852.8" y="498.08" font-size="55.56" transform="rotate(-90 2852.8 498.08)">T</text>
<text class="r" x="2861.99" y="464.18" font-size="38.89" transform="rotate(-90 2861.99 464.18)">0</text>
<text class="r" x="2852.8" y="437.93" font-size="55.56" transform="rotate(-90 2852.8 437.93)">]</text>
<text class="i" x="2077.71" y="1055.4" font-size="55.56">v</text>
<text class="i" x="2110.56" y="1064.59" font-size="38.89">x</text>
<text class="r" x="2153.1" y="1055.4" font-size="55.56">[</text>
<text class="i" x="2174.75" y="1055.4" font-size="55.56">c</text>
<text class="r" x="2205.27" y="1055.4" font-size="55.56">]</text>
<text class="i" x="1463.9" y="562.42" font-size="55.56" transform="rotate(-90 1463.9 562.42)">v</text>
<text class="i" x="1473.09" y="529.58" font-size="38.89" transform="rotate(-90 1473.09 529.58)">y</text>
<text class="r" x="1463.9" y="487.03" font-size="55.56" transform="rotate(-90 1463.9 487.03)">[</text>
<text class="i" x="1463.9" y="465.38" font-size="55.56" transform="rotate(-90 1463.9 465.38)">c</text>
<text class="r" x="1463.9" y="434.87" font-size="55.56" transform="rotate(-90 1463.9 434.87)">]</text>
<g class="bl"><circle cx="543.8" cy="1556.3" fill="#8000ff"/>
<circle cx="543.0" cy="1610.5" fill="#8000ff"/>
<circle cx="541.4" cy="1670.0" fill="#7e03ff"/>
<circle cx="539.1" cy="1721.3" fill="#7c06ff"/>
<circle cx="536.3" cy="1756.0" fill="#7a09ff"/>
<circle cx="533.2" cy="1777.7" fill="#780dff"/>
<circle cx="530.0" cy="1785.7" fill="#7610ff"/>
<circle cx="526.8" cy="1781.7" fill="#7413ff"/>
<circle cx="523.9" cy="1764.5" fill="#7413ff"/>
<circle cx="521.3" cy="1737.0" fill="#7216ff"/>
<circle cx="519.2" cy="1705.2" fill="#7019ff"/>
<circle cx="517.7" cy="1666.5" fill="#6e1cff"/>
<circle cx="516.7" cy="1625.8" fill="#6c1fff"/>
<circle cx="516.2" cy="1590.0" fill="#6a22fe"/>
<circle cx="516.1" cy="1563.7" fill="#6826fe"/>
<circle cx="516.1" cy="1556.3" fill="#6826fe"/>
<circle cx="516.2" cy="1551.8" fill="#6629fe"/>
<circle cx="516.0" cy="1574.2" fill="#642cfe"/>
<circle cx="515.3" cy="1602.8" fill="#622ffe"/>
<circle cx="514.2" cy="1632.2" fill="#6032fe"/>
<circle cx="512.8" cy="1661.4" fill="#5e35fe"/>
<circle cx="511.0" cy="1684.4" fill="#5c38fd"/>
<circle cx="509.0" cy="1697.1" fill="#5a3bfd"/>
<circle cx="507.0" cy="1699.6" fill="#5a3bfd"/>
<circle cx="505.1" cy="1691.3" fill="#583efd"/>
<circle cx="503.4" cy="1674.7" fill="#5641fd"/>
<circle cx="502.1" cy="1649.2" fill="#5444fd"/>
<circle cx="501.1" cy="1626.5" fill="#5247fc"/>
<circle cx="500.7" cy="1586.3" fill="#504afc"/>
<circle cx="500.4" cy="1578.9" fill="#4e4dfc"/>
<circle cx="500.4" cy="1554.9" fill="#4e4dfc"/>
<circle cx="500.6" cy="1541.9" fill="#4c50fc"/>
<circle cx="500.9" cy="1533.4" fill="#4a53fb"/>
<circle cx="501.1" cy="1545.2" fill="#4856fb"/>
<circle cx="501.0" cy="1561.1" fill="#4659fb"/>
<circle cx="500.6" cy="1588.0" fill="#445cfb"/>
<circle cx="499.8" cy="1610.9" fill="#425ffa"/>
<circle cx="498.7" cy="1633.8" fill="#4062fa"/>
<circle cx="497.6" cy="1637.3" fill="#4062fa"/>
<circle cx="496.5" cy="1634.2" fill="#3e65fa"/>
<circle cx="495.6" cy="1622.2" fill="#3c68f9"/>
<circle cx="494.9" cy="1606.5" fill="#396bf9"/>
<circle cx="494.4" cy="1589.8" fill="#386df9"/>
<circle cx="494.2" cy="1570.5" fill="#3670f8"/>
<circle cx="494.2" cy="1557.4" fill="#3473f8"/>
<circle cx="494.2" cy="1554.1" fill="#3473f8"/>
<circle cx="494.4" cy="1546.3" fill="#3176f8"/>
<circle cx="494.6" cy="1539.4" fill="#3079f7"/>
<circle cx="494.9" cy="1535.9" fill="#2e7bf7"/>
<circle cx="495.1" cy="1543.0" fill="#2c7ef7"/>
<circle cx="495.1" cy="1559.1" fill="#2981f6"/>
<circle cx="494.9" cy="1567.8" fill="#2884f6"/>
<circle cx="494.7" cy="1573.0" fill="#2884f6"/>
<circle cx="494.4" cy="1576.2" fill="#2686f5"/>
<circle cx="494.0" cy="1581.2" fill="#2489f5"/>
<circle cx="493.7" cy="1581.8" fill="#218cf4"/>
<circle cx="493.3" cy="1583.5" fill="#208ef4"/>
<circle cx="492.9" cy="1584.3" fill="#1e91f3"/>
<circle cx="492.6" cy="1582.1" fill="#1c93f3"/>
<circle cx="492.2" cy="1578.9" fill="#1996f3"/>
<circle cx="492.1" cy="1568.4" fill="#1996f3"/>
<circle cx="492.0" cy="1560.5" fill="#1898f2"/>
<circle cx="492.0" cy="1555.8" fill="#169bf2"/>
<circle cx="492.1" cy="1550.0" fill="#149df1"/>
<circle cx="492.4" cy="1536.2" fill="#11a0f1"/>
<circle cx="492.9" cy="1519.6" fill="#10a2f0"/>
<circle cx="493.7" cy="1506.7" fill="#0ea5ef"/>
<circle cx="494.5" cy="1499.0" fill="#0ea5ef"/>
<circle cx="495.3" cy="1498.3" fill="#0ca7ef"/>
<circle cx="496.0" cy="1504.2" fill="#09a9ee"/>
<circle cx="496.6" cy="1515.6" fill="#08acee"/>
<circle cx="497.0" cy="1528.6" fill="#06aeed"/>
<circle cx="497.2" cy="1543.3" fill="#04b0ed"/>
<circle cx="497.2" cy="1557.7" fill="#01b3ec"/>
<circle cx="497.1" cy="1567.0" fill="#00b5eb"/>
<circle cx="496.9" cy="1569.4" fill="#00b5eb"/>
<circle cx="496.7" cy="1567.1" fill="#02b7eb"/>
<circle cx="496.6" cy="1563.7" fill="#04b9ea"/>
<circle cx="496.6" cy="1560.1" fill="#07bbea"/>
<circle cx="496.6" cy="1557.3" fill="#08bee9"/>
<circle cx="496.6" cy="1554.7" fill="#0ac0e8"/>
<circle cx="496.7" cy="1551.8" fill="#0dc2e8"/>
<circle cx="496.8" cy="1549.5" fill="#0dc2e8"/>
<circle cx="496.9" cy="1549.5" fill="#0fc4e7"/>
<circle cx="497.0" cy="1550.7" fill="#10c6e6"/>
<circle cx="497.0" cy="1555.4" fill="#12c8e6"/>
<circle cx="497.0" cy="1560.0" fill="#14cae5"/>
<circle cx="496.9" cy="1562.9" fill="#17cbe4"/>
<circle cx="496.7" cy="1566.7" fill="#18cde4"/>
<circle cx="496.6" cy="1569.7" fill="#18cde4"/>
<circle cx="496.3" cy="1572.3" fill="#1acfe3"/>
<circle cx="496.1" cy="1572.2" fill="#1dd1e2"/>
<circle cx="496.0" cy="1568.5" fill="#1fd3e1"/>
<circle cx="495.9" cy="1562.4" fill="#20d5e1"/>
<circle cx="495.9" cy="1558.2" fill="#22d6e0"/>
<circle cx="495.9" cy="1556.1" fill="#24d8df"/>
<circle cx="495.9" cy="1557.8" fill="#27dade"/>
<circle cx="495.8" cy="1563.4" fill="#27dade"/>
<circle cx="495.5" cy="1574.0" fill="#28dbde"/>
<circle cx="495.1" cy="1586.3" fill="#2adddd"/>
<circle cx="494.6" cy="1596.3" fill="#2ddedc"/>
<circle cx="493.9" cy="1603.8" fill="#2fe0db"/>
<circle cx="493.2" cy="1607.4" fill="#30e1da"/>
<circle cx="492.4" cy="1610.3" fill="#32e3da"/>
<circle cx="491.6" cy="1613.4" fill="#32e3da"/>
<circle cx="490.8" cy="1613.1" fill="#34e4d9"/>
<circle cx="490.1" cy="1606.6" fill="#37e6d8"/>
<circle cx="489.6" cy="1594.4" fill="#38e7d7"/>
<circle cx="489.3" cy="1581.2" fill="#3ae8d6"/>
<circle cx="489.0" cy="1572.4" fill="#3dead5"/>
<circle cx="488.9" cy="1568.2" fill="#3febd5"/>
<circle cx="488.7" cy="1568.0" fill="#40ecd4"/>
<circle cx="488.6" cy="1565.8" fill="#40ecd4"/>
<circle cx="488.5" cy="1559.8" fill="#42edd3"/>
<circle cx="488.6" cy="1554.9" fill="#44eed2"/>
<circle cx="488.7" cy="1549.8" fill="#46efd1"/>
<circle cx="488.8" cy="1543.7" fill="#48f1d0"/>
<circle cx="489.1" cy="1538.8" fill="#4af2cf"/>
<circle cx="489.4" cy="1536.7" fill="#4df3ce"/>
<circle cx="489.7" cy="1532.0" fill="#4df3ce"/>
<circle cx="490.1" cy="1530.5" fill="#4ef3cd"/>
<circle cx="490.5" cy="1528.3" fill="#50f4cc"/>
<circle cx="490.9" cy="1525.4" fill="#52f5cb"/>
<circle cx="491.4" cy="1521.1" fill="#54f6cb"/>
<circle cx="492.0" cy="1515.5" fill="#56f7ca"/>
<circle cx="492.7" cy="1509.1" fill="#58f8c9"/>
<circle cx="493.5" cy="1500.5" fill="#58f8c9"/>
<circle cx="494.4" cy="1494.4" fill="#5af8c8"/>
<circle cx="495.3" cy="1494.0" fill="#5df9c7"/>
<circle cx="496.2" cy="1491.5" fill="#5efac6"/>
<circle cx="497.1" cy="1490.0" fill="#60fac5"/>
<circle cx="498.1" cy="1490.0" fill="#62fbc4"/>
<circle cx="499.0" cy="1492.4" fill="#64fbc3"/>
<circle cx="499.9" cy="1495.9" fill="#66fcc2"/>
<circle cx="500.7" cy="1499.9" fill="#66fcc2"/>
<circle cx="501.4" cy="1506.0" fill="#68fcc1"/>
<circle cx="502.0" cy="1509.3" fill="#6afdc0"/>
<circle cx="502.7" cy="1512.6" fill="#6dfdbf"/>
<circle cx="503.3" cy="1513.1" fill="#6efebe"/>
<circle cx="503.9" cy="1512.9" fill="#70febc"/>
<circle cx="504.6" cy="1509.9" fill="#72febb"/>
<circle cx="505.3" cy="1507.1" fill="#72febb"/>
<circle cx="506.0" cy="1509.4" fill="#74feba"/>
<circle cx="506.5" cy="1517.1" fill="#76ffb9"/>
<circle cx="506.9" cy="1528.9" fill="#78ffb8"/>
<circle cx="507.2" cy="1539.2" fill="#7affb7"/>
<circle cx="507.3" cy="1550.1" fill="#7dffb6"/>
<circle cx="507.2" cy="1558.9" fill="#7effb5"/>
<circle cx="507.1" cy="1564.1" fill="#80ffb4"/>
<circle cx="507.0" cy="1569.0" fill="#80ffb4"/>
<circle cx="506.7" cy="1576.0" fill="#82ffb3"/>
<circle cx="506.2" cy="1589.6" fill="#84ffb2"/>
<circle cx="505.7" cy="1595.9" fill="#86ffb0"/>
<circle cx="505.1" cy="1600.2" fill="#88ffaf"/>
<circle cx="504.4" cy="1603.6" fill="#8bfeae"/>
<circle cx="503.7" cy="1607.6" fill="#8cfead"/>
<circle cx="502.9" cy="1611.1" fill="#8cfead"/>
<circle cx="502.1" cy="1615.1" fill="#8efeac"/>
<circle cx="501.2" cy="1620.1" fill="#90feab"/>
<circle cx="500.3" cy="1623.2" fill="#92fda9"/>
<circle cx="499.4" cy="1621.9" fill="#94fda8"/>
<circle cx="498.5" cy="1617.6" fill="#96fca7"/>
<circle cx="497.7" cy="1613.1" fill="#99fca6"/>
<circle cx="497.0" cy="1610.7" fill="#99fca6"/>
<circle cx="496.2" cy="1613.6" fill="#9bfba5"/>
<circle cx="495.3" cy="1620.1" fill="#9cfba4"/>
<circle cx="494.2" cy="1630.6" fill="#9efaa2"/>
<circle cx="493.1" cy="1641.4" fill="#a0faa1"/>
<circle cx="491.8" cy="1647.1" fill="#a2f9a0"/>
<circle cx="490.5" cy="1645.5" fill="#a4f89f"/>
<circle cx="489.4" cy="1638.6" fill="#a6f89d"/>
<circle cx="488.3" cy="1630.9" fill="#a6f89d"/>
<circle cx="487.4" cy="1624.7" fill="#a8f79c"/>
<circle cx="486.5" cy="1621.2" fill="#abf69b"/>
<circle cx="485.6" cy="1619.4" fill="#acf59a"/>
<circle cx="484.7" cy="1617.2" fill="#aef498"/>
<circle cx="483.9" cy="1614.4" fill="#b0f397"/>
<circle cx="483.1" cy="1611.1" fill="#b2f396"/>
<circle cx="482.5" cy="1605.0" fill="#b2f396"/>
<circle cx="481.9" cy="1592.9" fill="#b4f295"/>
<circle cx="481.6" cy="1579.4" fill="#b6f193"/>
<circle cx="481.5" cy="1566.4" fill="#b9ef92"/>
<circle cx="481.5" cy="1554.2" fill="#bbee91"/>
<circle cx="481.7" cy="1545.2" fill="#bced8f"/>
<circle cx="481.9" cy="1539.4" fill="#beec8e"/>
<circle cx="482.2" cy="1535.1" fill="#c0eb8d"/>
<circle cx="482.6" cy="1532.7" fill="#c0eb8d"/>
<circle cx="482.9" cy="1530.7" fill="#c2ea8c"/>
<circle cx="483.3" cy="1529.0" fill="#c4e88a"/>
<circle cx="483.7" cy="1526.2" fill="#c6e789"/>
<circle cx="484.3" cy="1518.2" fill="#c8e688"/>
<circle cx="485.0" cy="1509.7" fill="#cbe486"/>
<circle cx="485.7" cy="1501.2" fill="#cce385"/>
<circle cx="486.6" cy="1493.2" fill="#cce385"/>
<circle cx="487.7" cy="1483.5" fill="#cee184"/>
<circle cx="488.8" cy="1473.1" fill="#d0e082"/>
<circle cx="490.1" cy="1465.4" fill="#d2de81"/>
<circle cx="491.5" cy="1460.9" fill="#d4dd80"/>
<circle cx="492.9" cy="1460.4" fill="#d6db7e"/>
<circle cx="494.2" cy="1464.3" fill="#d9da7d"/>
<circle cx="495.3" cy="1472.6" fill="#d9da7d"/>
<circle cx="496.4" cy="1483.1" fill="#dbd87b"/>
<circle cx="497.3" cy="1493.3" fill="#dcd67a"/>
<circle cx="498.1" cy="1501.1" fill="#ded579"/>
<circle cx="498.8" cy="1505.1" fill="#e0d377"/>
<circle cx="499.5" cy="1504.8" fill="#e2d176"/>
<circle cx="500.3" cy="1502.2" fill="#e4cf74"/>
<circle cx="501.2" cy="1494.9" fill="#e6cd73"/>
<circle cx="502.2" cy="1485.2" fill="#e6cd73"/>
<circle cx="503.3" cy="1477.2" fill="#e8cb72"/>
<circle cx="504.5" cy="1472.0" fill="#ebca70"/>
<circle cx="505.8" cy="1468.8" fill="#ecc86f"/>
<circle cx="507.0" cy="1468.3" fill="#eec66d"/>
<circle cx="508.2" cy="1472.6" fill="#f0c46c"/>
<circle cx="509.3" cy="1480.2" fill="#f2c26b"/>
<circle cx="510.3" cy="1486.9" fill="#f2c26b"/>
<circle cx="511.2" cy="1491.7" fill="#f4c069"/>
<circle cx="512.1" cy="1494.3" fill="#f6be68"/>
<circle cx="513.0" cy="1495.4" fill="#f9bb66"/>
<circle cx="513.9" cy="1493.9" fill="#fbb965"/>
<circle cx="514.8" cy="1493.0" fill="#fcb763"/>
<circle cx="515.7" cy="1491.0" fill="#feb562"/>
<circle cx="516.7" cy="1488.1" fill="#ffb360"/>
<circle cx="517.7" cy="1485.2" fill="#ffb360"/>
<circle cx="518.7" cy="1484.8" fill="#ffb05f"/>
<circle cx="519.7" cy="1485.0" fill="#ffae5e"/>
<circle cx="520.7" cy="1486.0" fill="#ffac5c"/>
<circle cx="521.7" cy="1488.6" fill="#ffa95b"/>
<circle cx="522.6" cy="1493.4" fill="#ffa759"/>
<circle cx="523.4" cy="1498.1" fill="#ffa558"/>
<circle cx="524.1" cy="1503.8" fill="#ffa558"/>
<circle cx="524.8" cy="1510.0" fill="#ffa256"/>
<circle cx="525.4" cy="1515.4" fill="#ffa055"/>
<circle cx="526.0" cy="1517.1" fill="#ff9d53"/>
<circle cx="526.5" cy="1514.7" fill="#ff9b52"/>
<circle cx="527.2" cy="1509.1" fill="#ff9850"/>
<circle cx="528.0" cy="1501.6" fill="#ff964f"/>
<circle cx="528.9" cy="1494.2" fill="#ff964f"/>
<circle cx="529.8" cy="1490.8" fill="#ff934d"/>
<circle cx="530.7" cy="1491.7" fill="#ff914c"/>
<circle cx="531.6" cy="1493.0" fill="#ff8e4a"/>
<circle cx="532.5" cy="1498.2" fill="#ff8c49"/>
<circle cx="533.2" cy="1505.6" fill="#ff8947"/>
<circle cx="533.8" cy="1512.3" fill="#ff8646"/>
<circle cx="534.4" cy="1518.3" fill="#ff8444"/>
<circle cx="534.9" cy="1521.7" fill="#ff8444"/>
<circle cx="535.3" cy="1522.9" fill="#ff8143"/>
<circle cx="535.8" cy="1521.2" fill="#ff7e41"/>
<circle cx="536.4" cy="1517.3" fill="#ff7b40"/>
<circle cx="537.0" cy="1510.4" fill="#ff793e"/>
<circle cx="537.9" cy="1499.5" fill="#ff763d"/>
<circle cx="538.8" cy="1491.7" fill="#ff733b"/>
<circle cx="539.8" cy="1486.3" fill="#ff733b"/>
<circle cx="540.8" cy="1484.2" fill="#ff703a"/>
<circle cx="541.8" cy="1484.0" fill="#ff6d38"/>
<circle cx="542.8" cy="1485.2" fill="#ff6b37"/>
<circle cx="543.8" cy="1488.9" fill="#ff6835"/>
<circle cx="544.7" cy="1495.1" fill="#ff6533"/>
<circle cx="545.4" cy="1501.2" fill="#ff6232"/>
<circle cx="546.2" cy="1505.3" fill="#ff5f30"/>
<circle cx="546.9" cy="1507.2" fill="#ff5f30"/>
<circle cx="547.6" cy="1503.2" fill="#ff5c2f"/>
<circle cx="548.5" cy="1496.4" fill="#ff592d"/>
<circle cx="549.4" cy="1489.4" fill="#ff562c"/>
<circle cx="550.5" cy="1482.1" fill="#ff532a"/>
<circle cx="551.6" cy="1473.8" fill="#ff5029"/>
<circle cx="552.9" cy="1465.3" fill="#ff4d27"/>
<circle cx="554.3" cy="1458.2" fill="#ff4d27"/>
<circle cx="555.8" cy="1453.6" fill="#ff4a26"/>
<circle cx="557.2" cy="1456.2" fill="#ff4724"/>
<circle cx="558.5" cy="1464.8" fill="#ff4422"/>
<circle cx="559.7" cy="1474.0" fill="#ff4121"/>
<circle cx="560.7" cy="1480.8" fill="#ff3e1f"/>
<circle cx="561.8" cy="1485.4" fill="#ff3b1e"/>
<circle cx="562.7" cy="1487.9" fill="#ff3b1e"/>
<circle cx="563.7" cy="1489.7" fill="#ff381c"/>
<circle cx="564.6" cy="1491.6" fill="#ff351b"/>
<circle cx="565.5" cy="1491.7" fill="#ff3219"/>
<circle cx="566.4" cy="1491.8" fill="#ff2f18"/>
<circle cx="567.3" cy="1492.3" fill="#ff2c16"/>
<circle cx="568.2" cy="1493.2" fill="#ff2914"/>
<circle cx="569.1" cy="1493.8" fill="#ff2613"/>
<circle cx="570.0" cy="1494.6" fill="#ff2613"/>
<circle cx="570.9" cy="1495.5" fill="#ff2211"/>
<circle cx="571.7" cy="1497.0" fill="#ff1f10"/>
<circle cx="572.5" cy="1498.9" fill="#ff1c0e"/>
<circle cx="573.3" cy="1501.1" fill="#ff190d"/>
<circle cx="574.1" cy="1503.2" fill="#ff160b"/>
<circle cx="574.8" cy="1504.1" fill="#ff1309"/>
<circle cx="575.5" cy="1505.4" fill="#ff1309"/>
<circle cx="576.2" cy="1507.4" fill="#ff1008"/>
<circle cx="576.9" cy="1508.8" fill="#ff0d06"/>
<circle cx="577.6" cy="1509.3" fill="#ff0905"/>
<circle cx="578.3" cy="1509.8" fill="#ff0603"/>
<circle cx="578.9" cy="1510.3" fill="#ff0302"/>
<circle cx="579.6" cy="1510.4" fill="#ff0000"/>
<circle cx="580.2" cy="1510.8" fill="#ff0000"/></g>
<path class="g" d="M230 2002V1112M355.6 2002V1112M481.2 2002V1112M606.8 2002V1112M732.4 2002V1112M858 2002V1112M983.6 2002V1112M1109.2 2002V1112M230 2002H1172M230 1890.75H1172M230 1779.5H1172M230 1668.25H1172M230 1557H1172M230 1445.75H1172M230 1334.5H1172M230 1223.25H1172M230 1112H1172"/>
<path class="s" d="M230 2002v8M355.6 2002v8M481.2 2002v8M606.8 2002v8M732.4 2002v8M858 2002v8M983.6 2002v8M1109.2 2002v8M230 2002h-8M230 1890.75h-8M230 1779.5h-8M230 1668.25h-8M230 1557h-8M230 1445.75h-8M230 1334.5h-8M230 1223.25h-8M230 1112h-8"/>
<rect class="s" x="230" y="1112" width="942" height="890"/>
<text class="r" x="230.5" y="2059.3" font-size="55.3" text-anchor="middle">0</text>
<text class="r" x="356.1" y="2059.3" font-size="55.3" text-anchor="middle">20</text>
<text class="r" x="481.7" y="2059.3" font-size="55.3" text-anchor="middle">40</text>
<text class="r" x="607.3" y="2059.3" font-size="55.3" text-anchor="middle">60</text>
<text class="r" x="732.9" y="2059.3" font-size="55.3" text-anchor="middle">80</text>
<text class="r" x="858.5" y="2059.3" font-size="55.3" text-anchor="middle">100</text>
<text class="r" x="984.1" y="2059.3" font-size="55.3" text-anchor="middle">120</text>
<text class="r" x="1109.7" y="2059.3" font-size="55.3" text-anchor="middle">140</text>
<text class="r" x="44.61" y="2023.2" font-size="55.3">−1.00</text>
<text class="r" x="45.77" y="1911.95" font-size="55.3">−0.75</text>
<text class="r" x="44.61" y="1800.7" font-size="55.3">−0.50</text>
<text class="r" x="45.77" y="1689.45" font-size="55.3">−0.25</text>
<text class="r" x="90.94" y="1578.2" font-size="55.3">0.00</text>
<text class="r" x="92.1" y="1466.95" font-size="55.3">0.25</text>
<text class="r" x="90.94" y="1355.7" font-size="55.3">0.50</text>
<text class="r" x="92.1" y="1244.45" font-size="55.3">0.75</text>
<text class="r" x="90.94" y="1133.2" font-size="55.3">1.00</text>
<rect x="1178" y="1112" width="44" height="890" fill="url(#g1)"/>
<rect class="s" x="1178" y="1112" width="44" height="890"/>
<path class="s" d="M1222 1112h8M1222 1560.7h8"/>
<text class="r" x="1238.77" y="1126.8" font-size="40">299.0</text>
<text class="r" x="1237.31" y="1575.5" font-size="40">149.5</text>
<text class="i" x="1403.8" y="1627.52" font-size="55.56" transform="rotate(-90 1403.8 1627.52)">t</text>
<text class="r" x="1403.8" y="1587.74" font-size="55.56" transform="rotate(-90 1403.8 1587.74)">[</text>
<text class="i" x="1403.8" y="1566.08" font-size="55.56" transform="rotate(-90 1403.8 1566.08)">T</text>
<text class="r" x="1412.99" y="1532.18" font-size="38.89" transform="rotate(-90 1412.99 1532.18)">0</text>
<text class="r" x="1403.8" y="1505.93" font-size="55.56" transform="rotate(-90 1403.8 1505.93)">]</text>
<text class="i" x="616.95" y="2123.8" font-size="55.56">r</text>
<text class="r" x="657.79" y="2123.8" font-size="55.56">[</text>
<text class="i" x="679.44" y="2123.8" font-size="55.56">μ</text>
<text class="i" x="714.75" y="2123.8" font-size="55.56">m</text>
<text class="r" x="768.81" y="2123.8" font-size="55.56">]</text>
<text class="i" x="23" y="1627.51" font-size="55.56" transform="rotate(-90 23 1627.51)">v</text>
<text class="i" x="32.19" y="1594.67" font-size="38.89" transform="rotate(-90 32.19 1594.67)">r</text>
<text class="r" x="23" y="1559.14" font-size="55.56" transform="rotate(-90 23 1559.14)">[</text>
<text class="i" x="23" y="1537.49" font-size="55.56" transform="rotate(-90 23 1537.49)">c</text>
<text class="r" x="23" y="1506.98" font-size="55.56" transform="rotate(-90 23 1506.98)">]</text>
<g class="wi"><circle cx="1688.4" cy="1644.5" fill="#0000ff"/>
<circle cx="1691.6" cy="1634.2" fill="#0000ff"/>
<circle cx="1694.7" cy="1595.9" fill="#0001fe"/>
<circle cx="1697.8" cy="1534.9" fill="#0002fe"/>
<circle cx="1701.0" cy="1473.3" fill="#0003fe"/>
<circle cx="1704.1" cy="1421.6" fill="#0004fd"/>
<circle cx="1707.3" cy="1395.2" fill="#0005fc"/>
<circle cx="1710.4" cy="1399.1" fill="#0006fc"/>
<circle cx="1713.5" cy="1430.8" fill="#0006fc"/>
<circle cx="1716.7" cy="1475.5" fill="#0007fc"/>
<circle cx="1719.8" cy="1516.3" fill="#0008fb"/>
<circle cx="1723.0" cy="1551.8" fill="#0009fa"/>
<circle cx="1726.1" cy="1575.6" fill="#000afa"/>
<circle cx="1729.2" cy="1586.7" fill="#000bfa"/>
<circle cx="1732.4" cy="1590.8" fill="#000cf9"/>
<circle cx="1735.5" cy="1591.9" fill="#000cf9"/>
<circle cx="1738.7" cy="1591.4" fill="#000df8"/>
<circle cx="1741.8" cy="1588.6" fill="#000ef8"/>
<circle cx="1744.9" cy="1580.0" fill="#000ff8"/>
<circle cx="1748.1" cy="1562.8" fill="#0010f7"/>
<circle cx="1751.2" cy="1535.8" fill="#0011f6"/>
<circle cx="1754.4" cy="1505.1" fill="#0012f6"/>
<circle cx="1757.5" cy="1480.1" fill="#0013f6"/>
<circle cx="1760.6" cy="1465.5" fill="#0013f6"/>
<circle cx="1763.8" cy="1464.1" fill="#0014f5"/>
<circle cx="1766.9" cy="1473.6" fill="#0015f4"/>
<circle cx="1770.1" cy="1488.6" fill="#0016f4"/>
<circle cx="1773.2" cy="1502.9" fill="#0017f4"/>
<circle cx="1776.3" cy="1512.5" fill="#0018f3"/>
<circle cx="1779.5" cy="1516.5" fill="#0019f2"/>
<circle cx="1782.6" cy="1517.3" fill="#0019f2"/>
<circle cx="1785.8" cy="1517.6" fill="#001af2"/>
<circle cx="1788.9" cy="1518.1" fill="#001bf2"/>
<circle cx="1792.0" cy="1517.3" fill="#001cf1"/>
<circle cx="1795.2" cy="1512.9" fill="#001df0"/>
<circle cx="1798.3" cy="1502.4" fill="#001ef0"/>
<circle cx="1801.5" cy="1485.6" fill="#001ff0"/>
<circle cx="1804.6" cy="1469.3" fill="#0020ef"/>
<circle cx="1807.7" cy="1456.8" fill="#0020ef"/>
<circle cx="1810.9" cy="1450.8" fill="#0021ee"/>
<circle cx="1814.0" cy="1451.4" fill="#0022ee"/>
<circle cx="1817.2" cy="1454.6" fill="#0023ee"/>
<circle cx="1820.3" cy="1459.0" fill="#0024ed"/>
<circle cx="1823.4" cy="1462.2" fill="#0025ec"/>
<circle cx="1826.6" cy="1463.9" fill="#0026ec"/>
<circle cx="1829.7" cy="1464.4" fill="#0026ec"/>
<circle cx="1832.9" cy="1464.1" fill="#0027ec"/>
<circle cx="1836.0" cy="1463.2" fill="#0028eb"/>
<circle cx="1839.1" cy="1462.6" fill="#0029eb"/>
<circle cx="1842.3" cy="1461.4" fill="#002aea"/>
<circle cx="1845.4" cy="1459.2" fill="#002bea"/>
<circle cx="1848.6" cy="1456.0" fill="#002ce9"/>
<circle cx="1851.7" cy="1452.4" fill="#002ce9"/>
<circle cx="1854.8" cy="1448.3" fill="#002de8"/>
<circle cx="1858.0" cy="1444.5" fill="#002ee8"/>
<circle cx="1861.1" cy="1440.7" fill="#002fe8"/>
<circle cx="1864.3" cy="1436.8" fill="#0030e7"/>
<circle cx="1867.4" cy="1432.5" fill="#0031e6"/>
<circle cx="1870.5" cy="1428.9" fill="#0032e6"/>
<circle cx="1873.7" cy="1425.7" fill="#0033e6"/>
<circle cx="1876.8" cy="1423.7" fill="#0033e6"/>
<circle cx="1880.0" cy="1422.7" fill="#0034e5"/>
<circle cx="1883.1" cy="1422.6" fill="#0035e4"/>
<circle cx="1886.2" cy="1423.3" fill="#0036e4"/>
<circle cx="1889.4" cy="1424.4" fill="#0037e3"/>
<circle cx="1892.5" cy="1424.6" fill="#0038e3"/>
<circle cx="1895.7" cy="1423.7" fill="#0039e2"/>
<circle cx="1898.8" cy="1422.7" fill="#0039e2"/>
<circle cx="1901.9" cy="1422.8" fill="#003ae2"/>
<circle cx="1905.1" cy="1425.1" fill="#003be2"/>
<circle cx="1908.2" cy="1429.6" fill="#003ce1"/>
<circle cx="1911.4" cy="1432.9" fill="#003de0"/>
<circle cx="1914.5" cy="1433.5" fill="#003ee0"/>
<circle cx="1917.6" cy="1431.3" fill="#003fe0"/>
<circle cx="1920.8" cy="1427.5" fill="#0040df"/>
<circle cx="1923.9" cy="1424.2" fill="#0040df"/>
<circle cx="1927.1" cy="1421.7" fill="#0041de"/>
<circle cx="1930.2" cy="1419.3" fill="#0042de"/>
<circle cx="1933.3" cy="1416.8" fill="#0043de"/>
<circle cx="1936.5" cy="1414.8" fill="#0044dd"/>
<circle cx="1939.6" cy="1413.9" fill="#0045dc"/>
<circle cx="1942.8" cy="1413.9" fill="#0046dc"/>
<circle cx="1945.9" cy="1414.2" fill="#0046dc"/>
<circle cx="1949.0" cy="1414.5" fill="#0047dc"/>
<circle cx="1952.2" cy="1414.6" fill="#0048db"/>
<circle cx="1955.3" cy="1414.5" fill="#0049db"/>
<circle cx="1958.5" cy="1414.2" fill="#004ada"/>
<circle cx="1961.6" cy="1413.4" fill="#004bda"/>
<circle cx="1964.7" cy="1411.8" fill="#004cd9"/>
<circle cx="1967.9" cy="1409.0" fill="#004cd9"/>
<circle cx="1971.0" cy="1405.8" fill="#004dd8"/>
<circle cx="1974.2" cy="1403.3" fill="#004ed8"/>
<circle cx="1977.3" cy="1402.0" fill="#004fd8"/>
<circle cx="1980.4" cy="1400.9" fill="#0050d7"/>
<circle cx="1983.6" cy="1399.8" fill="#0051d6"/>
<circle cx="1986.7" cy="1398.5" fill="#0052d6"/>
<circle cx="1989.9" cy="1396.9" fill="#0053d6"/>
<circle cx="1993.0" cy="1394.4" fill="#0053d6"/>
<circle cx="1996.1" cy="1391.1" fill="#0054d5"/>
<circle cx="1999.3" cy="1386.8" fill="#0055d4"/>
<circle cx="2002.4" cy="1383.0" fill="#0056d4"/>
<circle cx="2005.6" cy="1379.2" fill="#0057d3"/>
<circle cx="2008.7" cy="1375.9" fill="#0058d3"/>
<circle cx="2011.8" cy="1371.6" fill="#0059d2"/>
<circle cx="2015.0" cy="1366.0" fill="#0059d2"/>
<circle cx="2018.1" cy="1362.1" fill="#005ad2"/>
<circle cx="2021.3" cy="1361.3" fill="#005bd2"/>
<circle cx="2024.4" cy="1362.4" fill="#005cd1"/>
<circle cx="2027.5" cy="1363.1" fill="#005dd0"/>
<circle cx="2030.7" cy="1361.8" fill="#005ed0"/>
<circle cx="2033.8" cy="1358.6" fill="#005fd0"/>
<circle cx="2037.0" cy="1352.6" fill="#0060cf"/>
<circle cx="2040.1" cy="1346.7" fill="#0060cf"/>
<circle cx="2043.2" cy="1340.7" fill="#0061ce"/>
<circle cx="2046.4" cy="1334.2" fill="#0062ce"/>
<circle cx="2049.5" cy="1328.0" fill="#0063ce"/>
<circle cx="2052.7" cy="1322.2" fill="#0064cd"/>
<circle cx="2055.8" cy="1318.2" fill="#0065cc"/>
<circle cx="2058.9" cy="1315.9" fill="#0066cc"/>
<circle cx="2062.1" cy="1314.2" fill="#0066cc"/>
<circle cx="2065.2" cy="1313.2" fill="#0067cc"/>
<circle cx="2068.4" cy="1312.7" fill="#0068cb"/>
<circle cx="2071.5" cy="1312.7" fill="#0069cb"/>
<circle cx="2074.6" cy="1312.8" fill="#006aca"/>
<circle cx="2077.8" cy="1312.8" fill="#006bca"/>
<circle cx="2080.9" cy="1312.9" fill="#006cc9"/>
<circle cx="2084.1" cy="1313.2" fill="#006cc9"/>
<circle cx="2087.2" cy="1313.9" fill="#006dc8"/>
<circle cx="2090.3" cy="1314.7" fill="#006ec8"/>
<circle cx="2093.5" cy="1315.5" fill="#006fc8"/>
<circle cx="2096.6" cy="1316.2" fill="#0070c7"/>
<circle cx="2099.8" cy="1317.1" fill="#0071c6"/>
<circle cx="2102.9" cy="1318.5" fill="#0072c6"/>
<circle cx="2106.0" cy="1320.4" fill="#0073c6"/>
<circle cx="2109.2" cy="1322.5" fill="#0073c6"/>
<circle cx="2112.3" cy="1324.4" fill="#0074c5"/>
<circle cx="2115.5" cy="1325.5" fill="#0075c4"/>
<circle cx="2118.6" cy="1326.0" fill="#0076c4"/>
<circle cx="2121.7" cy="1325.8" fill="#0077c3"/>
<circle cx="2124.9" cy="1325.0" fill="#0078c3"/>
<circle cx="2128.0" cy="1324.4" fill="#0079c2"/>
<circle cx="2131.2" cy="1324.4" fill="#0079c2"/>
<circle cx="2134.3" cy="1325.2" fill="#007ac2"/>
<circle cx="2137.4" cy="1327.4" fill="#007bc2"/>
<circle cx="2140.6" cy="1329.8" fill="#007cc1"/>
<circle cx="2143.7" cy="1331.2" fill="#007dc0"/>
<circle cx="2146.9" cy="1331.8" fill="#007ec0"/>
<circle cx="2150.0" cy="1332.0" fill="#007fc0"/>
<circle cx="2153.1" cy="1332.0" fill="#0080bf"/>
<circle cx="2156.3" cy="1332.0" fill="#0080bf"/>
<circle cx="2159.4" cy="1331.8" fill="#0081be"/>
<circle cx="2162.6" cy="1331.5" fill="#0082be"/>
<circle cx="2165.7" cy="1331.3" fill="#0083be"/>
<circle cx="2168.8" cy="1330.9" fill="#0084bd"/>
<circle cx="2172.0" cy="1330.1" fill="#0085bc"/>
<circle cx="2175.1" cy="1328.7" fill="#0086bc"/>
<circle cx="2178.3" cy="1326.9" fill="#0086bc"/>
<circle cx="2181.4" cy="1324.7" fill="#0087bc"/>
<circle cx="2184.5" cy="1321.1" fill="#0088bb"/>
<circle cx="2187.7" cy="1318.7" fill="#0089bb"/>
<circle cx="2190.8" cy="1318.5" fill="#008aba"/>
<circle cx="2194.0" cy="1320.7" fill="#008bba"/>
<circle cx="2197.1" cy="1323.9" fill="#008cb9"/>
<circle cx="2200.2" cy="1326.9" fill="#008cb9"/>
<circle cx="2203.4" cy="1328.5" fill="#008db8"/>
<circle cx="2206.5" cy="1327.6" fill="#008eb8"/>
<circle cx="2209.7" cy="1323.6" fill="#008fb8"/>
<circle cx="2212.8" cy="1316.3" fill="#0090b7"/>
<circle cx="2215.9" cy="1308.8" fill="#0091b6"/>
<circle cx="2219.1" cy="1302.1" fill="#0092b6"/>
<circle cx="2222.2" cy="1298.7" fill="#0093b6"/>
<circle cx="2225.4" cy="1296.5" fill="#0093b6"/>
<circle cx="2228.5" cy="1292.9" fill="#0094b5"/>
<circle cx="2231.6" cy="1289.2" fill="#0095b4"/>
<circle cx="2234.8" cy="1285.1" fill="#0096b4"/>
<circle cx="2237.9" cy="1279.5" fill="#0097b3"/>
<circle cx="2241.1" cy="1274.2" fill="#0098b3"/>
<circle cx="2244.2" cy="1270.8" fill="#0099b2"/>
<circle cx="2247.3" cy="1270.1" fill="#0099b2"/>
<circle cx="2250.5" cy="1270.7" fill="#009ab2"/>
<circle cx="2253.6" cy="1272.2" fill="#009bb2"/>
<circle cx="2256.8" cy="1272.4" fill="#009cb1"/>
<circle cx="2259.9" cy="1270.7" fill="#009db0"/>
<circle cx="2263.0" cy="1266.6" fill="#009eb0"/>
<circle cx="2266.2" cy="1260.3" fill="#009fb0"/>
<circle cx="2269.3" cy="1252.9" fill="#00a0af"/>
<circle cx="2272.5" cy="1246.3" fill="#00a0af"/>
<circle cx="2275.6" cy="1240.8" fill="#00a1ae"/>
<circle cx="2278.7" cy="1236.0" fill="#00a2ae"/>
<circle cx="2281.9" cy="1233.5" fill="#00a3ae"/>
<circle cx="2285.0" cy="1234.4" fill="#00a4ad"/>
<circle cx="2288.2" cy="1236.0" fill="#00a5ac"/>
<circle cx="2291.3" cy="1236.6" fill="#00a6ac"/>
<circle cx="2294.4" cy="1236.6" fill="#00a6ac"/>
<circle cx="2297.6" cy="1236.5" fill="#00a7ac"/>
<circle cx="2300.7" cy="1236.6" fill="#00a8ab"/>
<circle cx="2303.9" cy="1236.9" fill="#00a9ab"/>
<circle cx="2307.0" cy="1237.6" fill="#00aaaa"/>
<circle cx="2310.1" cy="1238.7" fill="#00abaa"/>
<circle cx="2313.3" cy="1240.0" fill="#00aca9"/>
<circle cx="2316.4" cy="1241.4" fill="#00aca9"/>
<circle cx="2319.6" cy="1242.5" fill="#00ada8"/>
<circle cx="2322.7" cy="1243.1" fill="#00aea8"/>
<circle cx="2325.8" cy="1243.3" fill="#00afa8"/>
<circle cx="2329.0" cy="1243.1" fill="#00b0a7"/>
<circle cx="2332.1" cy="1242.5" fill="#00b1a6"/>
<circle cx="2335.3" cy="1241.6" fill="#00b2a6"/>
<circle cx="2338.4" cy="1240.4" fill="#00b3a6"/>
<circle cx="2341.5" cy="1239.3" fill="#00b3a6"/>
<circle cx="2344.7" cy="1238.7" fill="#00b4a5"/>
<circle cx="2347.8" cy="1238.6" fill="#00b5a4"/>
<circle cx="2351.0" cy="1239.0" fill="#00b6a4"/>
<circle cx="2354.1" cy="1240.0" fill="#00b7a3"/>
<circle cx="2357.2" cy="1242.5" fill="#00b8a3"/>
<circle cx="2360.4" cy="1244.7" fill="#00b9a2"/>
<circle cx="2363.5" cy="1246.1" fill="#00b9a2"/>
<circle cx="2366.7" cy="1246.3" fill="#00baa2"/>
<circle cx="2369.8" cy="1245.0" fill="#00bba2"/>
<circle cx="2372.9" cy="1242.5" fill="#00bca1"/>
<circle cx="2376.1" cy="1238.7" fill="#00bda0"/>
<circle cx="2379.2" cy="1234.9" fill="#00bea0"/>
<circle cx="2382.4" cy="1231.7" fill="#00bfa0"/>
<circle cx="2385.5" cy="1229.0" fill="#00c09f"/>
<circle cx="2388.6" cy="1227.1" fill="#00c09f"/>
<circle cx="2391.8" cy="1226.3" fill="#00c19e"/>
<circle cx="2394.9" cy="1225.9" fill="#00c29e"/>
<circle cx="2398.1" cy="1226.3" fill="#00c39e"/>
<circle cx="2401.2" cy="1227.9" fill="#00c49d"/>
<circle cx="2404.3" cy="1230.3" fill="#00c59c"/>
<circle cx="2407.5" cy="1232.8" fill="#00c69c"/>
<circle cx="2410.6" cy="1235.3" fill="#00c69c"/>
<circle cx="2413.8" cy="1237.1" fill="#00c79c"/>
<circle cx="2416.9" cy="1237.6" fill="#00c89b"/>
<circle cx="2420.0" cy="1236.4" fill="#00c99b"/>
<circle cx="2423.2" cy="1232.8" fill="#00ca9a"/>
<circle cx="2426.3" cy="1228.2" fill="#00cb9a"/>
<circle cx="2429.5" cy="1223.2" fill="#00cc99"/>
<circle cx="2432.6" cy="1218.6" fill="#00cc99"/>
<circle cx="2435.7" cy="1215.5" fill="#00cd98"/>
<circle cx="2438.9" cy="1214.4" fill="#00ce98"/>
<circle cx="2442.0" cy="1214.5" fill="#00cf98"/>
<circle cx="2445.2" cy="1215.9" fill="#00d097"/>
<circle cx="2448.3" cy="1218.6" fill="#00d196"/>
<circle cx="2451.4" cy="1221.6" fill="#00d296"/>
<circle cx="2454.6" cy="1224.1" fill="#00d396"/>
<circle cx="2457.7" cy="1225.6" fill="#00d396"/>
<circle cx="2460.9" cy="1225.5" fill="#00d495"/>
<circle cx="2464.0" cy="1224.0" fill="#00d594"/>
<circle cx="2467.1" cy="1221.0" fill="#00d694"/>
<circle cx="2470.3" cy="1216.0" fill="#00d793"/>
<circle cx="2473.4" cy="1208.7" fill="#00d893"/>
<circle cx="2476.6" cy="1201.9" fill="#00d992"/>
<circle cx="2479.7" cy="1196.9" fill="#00d992"/>
<circle cx="2482.8" cy="1193.1" fill="#00da92"/>
<circle cx="2486.0" cy="1190.8" fill="#00db92"/>
<circle cx="2489.1" cy="1190.6" fill="#00dc91"/>
<circle cx="2492.3" cy="1194.1" fill="#00dd90"/>
<circle cx="2495.4" cy="1200.1" fill="#00de90"/>
<circle cx="2498.5" cy="1204.9" fill="#00df90"/>
<circle cx="2501.7" cy="1207.1" fill="#00e08f"/>
<circle cx="2504.8" cy="1206.8" fill="#00e08f"/>
<circle cx="2508.0" cy="1204.4" fill="#00e18e"/>
<circle cx="2511.1" cy="1199.5" fill="#00e28e"/>
<circle cx="2514.2" cy="1193.3" fill="#00e38e"/>
<circle cx="2517.4" cy="1186.7" fill="#00e48d"/>
<circle cx="2520.5" cy="1179.2" fill="#00e58c"/>
<circle cx="2523.7" cy="1172.7" fill="#00e68c"/>
<circle cx="2526.8" cy="1167.5" fill="#00e68c"/>
<circle cx="2529.9" cy="1165.3" fill="#00e78c"/>
<circle cx="2533.1" cy="1170.2" fill="#00e88b"/>
<circle cx="2536.2" cy="1179.2" fill="#00e98b"/>
<circle cx="2539.4" cy="1187.6" fill="#00ea8a"/>
<circle cx="2542.5" cy="1194.1" fill="#00eb8a"/>
<circle cx="2545.6" cy="1197.7" fill="#00ec89"/>
<circle cx="2548.8" cy="1199.5" fill="#00ec89"/>
<circle cx="2551.9" cy="1200.3" fill="#00ed88"/>
<circle cx="2555.1" cy="1200.3" fill="#00ee88"/>
<circle cx="2558.2" cy="1200.3" fill="#00ef88"/>
<circle cx="2561.3" cy="1200.9" fill="#00f087"/>
<circle cx="2564.5" cy="1202.8" fill="#00f186"/>
<circle cx="2567.6" cy="1204.7" fill="#00f286"/>
<circle cx="2570.8" cy="1206.3" fill="#00f386"/>
<circle cx="2573.9" cy="1207.6" fill="#00f386"/>
<circle cx="2577.0" cy="1209.0" fill="#00f485"/>
<circle cx="2580.2" cy="1211.1" fill="#00f584"/>
<circle cx="2583.3" cy="1213.6" fill="#00f684"/>
<circle cx="2586.5" cy="1216.0" fill="#00f784"/>
<circle cx="2589.6" cy="1218.0" fill="#00f883"/>
<circle cx="2592.7" cy="1219.4" fill="#00f982"/>
<circle cx="2595.9" cy="1220.7" fill="#00f982"/>
<circle cx="2599.0" cy="1222.1" fill="#00fa82"/>
<circle cx="2602.2" cy="1223.4" fill="#00fb82"/>
<circle cx="2605.3" cy="1224.4" fill="#00fc81"/>
<circle cx="2608.4" cy="1225.2" fill="#00fd80"/>
<circle cx="2611.6" cy="1226.1" fill="#00fe80"/>
<circle cx="2614.7" cy="1227.0" fill="#00ff80"/>
<circle cx="2617.9" cy="1227.7" fill="#00ff80"/></g>
<g class="ek"><circle cx="1688.4" cy="1562.6" fill="#8000ff"/>
<circle cx="1691.6" cy="1552.0" fill="#8000ff"/>
<circle cx="1694.7" cy="1513.6" fill="#7e03ff"/>
<circle cx="1697.8" cy="1452.0" fill="#7c06ff"/>
<circle cx="1701.0" cy="1389.4" fill="#7a09ff"/>
<circle cx="1704.1" cy="1336.4" fill="#780dff"/>
<circle cx="1707.3" cy="1309.5" fill="#7610ff"/>
<circle cx="1710.4" cy="1312.8" fill="#7413ff"/>
<circle cx="1713.5" cy="1346.2" fill="#7413ff"/>
<circle cx="1716.7" cy="1393.6" fill="#7216ff"/>
<circle cx="1719.8" cy="1439.0" fill="#7019ff"/>
<circle cx="1723.0" cy="1479.3" fill="#6e1cff"/>
<circle cx="1726.1" cy="1508.6" fill="#6c1fff"/>
<circle cx="1729.2" cy="1524.6" fill="#6a22fe"/>
<circle cx="1732.4" cy="1532.2" fill="#6826fe"/>
<circle cx="1735.5" cy="1534.9" fill="#6826fe"/>
<circle cx="1738.7" cy="1534.2" fill="#6629fe"/>
<circle cx="1741.8" cy="1529.8" fill="#642cfe"/>
<circle cx="1744.9" cy="1517.4" fill="#622ffe"/>
<circle cx="1748.1" cy="1498.0" fill="#6032fe"/>
<circle cx="1751.2" cy="1470.7" fill="#5e35fe"/>
<circle cx="1754.4" cy="1441.8" fill="#5c38fd"/>
<circle cx="1757.5" cy="1420.5" fill="#5a3bfd"/>
<circle cx="1760.6" cy="1411.3" fill="#5a3bfd"/>
<circle cx="1763.8" cy="1417.6" fill="#583efd"/>
<circle cx="1766.9" cy="1435.4" fill="#5641fd"/>
<circle cx="1770.1" cy="1458.1" fill="#5444fd"/>
<circle cx="1773.2" cy="1480.7" fill="#5247fc"/>
<circle cx="1776.3" cy="1496.1" fill="#504afc"/>
<circle cx="1779.5" cy="1504.0" fill="#4e4dfc"/>
<circle cx="1782.6" cy="1508.1" fill="#4e4dfc"/>
<circle cx="1785.8" cy="1510.0" fill="#4c50fc"/>
<circle cx="1788.9" cy="1510.5" fill="#4a53fb"/>
<circle cx="1792.0" cy="1508.9" fill="#4856fb"/>
<circle cx="1795.2" cy="1503.5" fill="#4659fb"/>
<circle cx="1798.3" cy="1494.2" fill="#445cfb"/>
<circle cx="1801.5" cy="1480.9" fill="#425ffa"/>
<circle cx="1804.6" cy="1468.0" fill="#4062fa"/>
<circle cx="1807.7" cy="1463.3" fill="#4062fa"/>
<circle cx="1810.9" cy="1467.1" fill="#3e65fa"/>
<circle cx="1814.0" cy="1476.9" fill="#3c68f9"/>
<circle cx="1817.2" cy="1488.0" fill="#396bf9"/>
<circle cx="1820.3" cy="1498.0" fill="#386df9"/>
<circle cx="1823.4" cy="1504.8" fill="#3670f8"/>
<circle cx="1826.6" cy="1506.7" fill="#3473f8"/>
<circle cx="1829.7" cy="1505.4" fill="#3473f8"/>
<circle cx="1832.9" cy="1502.6" fill="#3176f8"/>
<circle cx="1836.0" cy="1500.5" fill="#3079f7"/>
<circle cx="1839.1" cy="1500.8" fill="#2e7bf7"/>
<circle cx="1842.3" cy="1502.9" fill="#2c7ef7"/>
<circle cx="1845.4" cy="1506.9" fill="#2981f6"/>
<circle cx="1848.6" cy="1511.9" fill="#2884f6"/>
<circle cx="1851.7" cy="1516.5" fill="#2884f6"/>
<circle cx="1854.8" cy="1519.7" fill="#2686f5"/>
<circle cx="1858.0" cy="1521.2" fill="#2489f5"/>
<circle cx="1861.1" cy="1520.3" fill="#218cf4"/>
<circle cx="1864.3" cy="1517.3" fill="#208ef4"/>
<circle cx="1867.4" cy="1512.2" fill="#1e91f3"/>
<circle cx="1870.5" cy="1505.6" fill="#1c93f3"/>
<circle cx="1873.7" cy="1499.7" fill="#1996f3"/>
<circle cx="1876.8" cy="1495.6" fill="#1996f3"/>
<circle cx="1880.0" cy="1494.5" fill="#1898f2"/>
<circle cx="1883.1" cy="1497.9" fill="#169bf2"/>
<circle cx="1886.2" cy="1505.6" fill="#149df1"/>
<circle cx="1889.4" cy="1516.0" fill="#11a0f1"/>
<circle cx="1892.5" cy="1525.9" fill="#10a2f0"/>
<circle cx="1895.7" cy="1533.3" fill="#0ea5ef"/>
<circle cx="1898.8" cy="1539.0" fill="#0ea5ef"/>
<circle cx="1901.9" cy="1543.1" fill="#0ca7ef"/>
<circle cx="1905.1" cy="1547.3" fill="#09a9ee"/>
<circle cx="1908.2" cy="1551.2" fill="#08acee"/>
<circle cx="1911.4" cy="1552.2" fill="#06aeed"/>
<circle cx="1914.5" cy="1550.7" fill="#04b0ed"/>
<circle cx="1917.6" cy="1546.3" fill="#01b3ec"/>
<circle cx="1920.8" cy="1540.1" fill="#00b5eb"/>
<circle cx="1923.9" cy="1534.1" fill="#00b5eb"/>
<circle cx="1927.1" cy="1530.1" fill="#02b7eb"/>
<circle cx="1930.2" cy="1525.9" fill="#04b9ea"/>
<circle cx="1933.3" cy="1522.5" fill="#07bbea"/>
<circle cx="1936.5" cy="1521.8" fill="#08bee9"/>
<circle cx="1939.6" cy="1525.7" fill="#0ac0e8"/>
<circle cx="1942.8" cy="1534.1" fill="#0dc2e8"/>
<circle cx="1945.9" cy="1543.9" fill="#0dc2e8"/>
<circle cx="1949.0" cy="1552.2" fill="#0fc4e7"/>
<circle cx="1952.2" cy="1556.9" fill="#10c6e6"/>
<circle cx="1955.3" cy="1559.6" fill="#12c8e6"/>
<circle cx="1958.5" cy="1560.7" fill="#14cae5"/>
<circle cx="1961.6" cy="1559.8" fill="#17cbe4"/>
<circle cx="1964.7" cy="1557.4" fill="#18cde4"/>
<circle cx="1967.9" cy="1553.6" fill="#18cde4"/>
<circle cx="1971.0" cy="1548.2" fill="#1acfe3"/>
<circle cx="1974.2" cy="1542.8" fill="#1dd1e2"/>
<circle cx="1977.3" cy="1538.4" fill="#1fd3e1"/>
<circle cx="1980.4" cy="1535.9" fill="#20d5e1"/>
<circle cx="1983.6" cy="1535.2" fill="#22d6e0"/>
<circle cx="1986.7" cy="1536.3" fill="#24d8df"/>
<circle cx="1989.9" cy="1540.1" fill="#27dade"/>
<circle cx="1993.0" cy="1544.4" fill="#27dade"/>
<circle cx="1996.1" cy="1547.6" fill="#28dbde"/>
<circle cx="1999.3" cy="1549.0" fill="#2adddd"/>
<circle cx="2002.4" cy="1548.2" fill="#2ddedc"/>
<circle cx="2005.6" cy="1545.5" fill="#2fe0db"/>
<circle cx="2008.7" cy="1542.2" fill="#30e1da"/>
<circle cx="2011.8" cy="1537.9" fill="#32e3da"/>
<circle cx="2015.0" cy="1533.5" fill="#32e3da"/>
<circle cx="2018.1" cy="1530.8" fill="#34e4d9"/>
<circle cx="2021.3" cy="1530.3" fill="#37e6d8"/>
<circle cx="2024.4" cy="1530.3" fill="#38e7d7"/>
<circle cx="2027.5" cy="1529.2" fill="#3ae8d6"/>
<circle cx="2030.7" cy="1525.9" fill="#3dead5"/>
<circle cx="2033.8" cy="1522.2" fill="#3febd5"/>
<circle cx="2037.0" cy="1517.3" fill="#40ecd4"/>
<circle cx="2040.1" cy="1510.8" fill="#40ecd4"/>
<circle cx="2043.2" cy="1503.2" fill="#42edd3"/>
<circle cx="2046.4" cy="1497.2" fill="#44eed2"/>
<circle cx="2049.5" cy="1494.3" fill="#46efd1"/>
<circle cx="2052.7" cy="1493.4" fill="#48f1d0"/>
<circle cx="2055.8" cy="1495.6" fill="#4af2cf"/>
<circle cx="2058.9" cy="1502.6" fill="#4df3ce"/>
<circle cx="2062.1" cy="1512.2" fill="#4df3ce"/>
<circle cx="2065.2" cy="1521.6" fill="#4ef3cd"/>
<circle cx="2068.4" cy="1531.6" fill="#50f4cc"/>
<circle cx="2071.5" cy="1540.3" fill="#52f5cb"/>
<circle cx="2074.6" cy="1545.3" fill="#54f6cb"/>
<circle cx="2077.8" cy="1546.3" fill="#56f7ca"/>
<circle cx="2080.9" cy="1543.9" fill="#58f8c9"/>
<circle cx="2084.1" cy="1540.1" fill="#58f8c9"/>
<circle cx="2087.2" cy="1537.7" fill="#5af8c8"/>
<circle cx="2090.3" cy="1537.0" fill="#5df9c7"/>
<circle cx="2093.5" cy="1537.5" fill="#5efac6"/>
<circle cx="2096.6" cy="1538.3" fill="#60fac5"/>
<circle cx="2099.8" cy="1539.5" fill="#62fbc4"/>
<circle cx="2102.9" cy="1541.1" fill="#64fbc3"/>
<circle cx="2106.0" cy="1542.6" fill="#66fcc2"/>
<circle cx="2109.2" cy="1543.5" fill="#66fcc2"/>
<circle cx="2112.3" cy="1544.2" fill="#68fcc1"/>
<circle cx="2115.5" cy="1546.3" fill="#6afdc0"/>
<circle cx="2118.6" cy="1549.0" fill="#6dfdbf"/>
<circle cx="2121.7" cy="1552.0" fill="#6efebe"/>
<circle cx="2124.9" cy="1553.3" fill="#70febc"/>
<circle cx="2128.0" cy="1553.1" fill="#72febb"/>
<circle cx="2131.2" cy="1553.1" fill="#72febb"/>
<circle cx="2134.3" cy="1554.2" fill="#74feba"/>
<circle cx="2137.4" cy="1556.5" fill="#76ffb9"/>
<circle cx="2140.6" cy="1559.4" fill="#78ffb8"/>
<circle cx="2143.7" cy="1561.2" fill="#7affb7"/>
<circle cx="2146.9" cy="1562.3" fill="#7dffb6"/>
<circle cx="2150.0" cy="1562.6" fill="#7effb5"/>
<circle cx="2153.1" cy="1562.3" fill="#80ffb4"/>
<circle cx="2156.3" cy="1561.2" fill="#80ffb4"/>
<circle cx="2159.4" cy="1559.0" fill="#82ffb3"/>
<circle cx="2162.6" cy="1556.9" fill="#84ffb2"/>
<circle cx="2165.7" cy="1555.2" fill="#86ffb0"/>
<circle cx="2168.8" cy="1554.2" fill="#88ffaf"/>
<circle cx="2172.0" cy="1553.6" fill="#8bfeae"/>
<circle cx="2175.1" cy="1552.9" fill="#8cfead"/>
<circle cx="2178.3" cy="1551.8" fill="#8cfead"/>
<circle cx="2181.4" cy="1549.6" fill="#8efeac"/>
<circle cx="2184.5" cy="1546.6" fill="#90feab"/>
<circle cx="2187.7" cy="1543.9" fill="#92fda9"/>
<circle cx="2190.8" cy="1543.3" fill="#94fda8"/>
<circle cx="2194.0" cy="1545.5" fill="#96fca7"/>
<circle cx="2197.1" cy="1548.2" fill="#99fca6"/>
<circle cx="2200.2" cy="1550.4" fill="#99fca6"/>
<circle cx="2203.4" cy="1550.4" fill="#9bfba5"/>
<circle cx="2206.5" cy="1547.6" fill="#9cfba4"/>
<circle cx="2209.7" cy="1542.0" fill="#9efaa2"/>
<circle cx="2212.8" cy="1534.1" fill="#a0faa1"/>
<circle cx="2215.9" cy="1526.5" fill="#a2f9a0"/>
<circle cx="2219.1" cy="1520.7" fill="#a4f89f"/>
<circle cx="2222.2" cy="1516.2" fill="#a6f89d"/>
<circle cx="2225.4" cy="1512.7" fill="#a6f89d"/>
<circle cx="2228.5" cy="1509.7" fill="#a8f79c"/>
<circle cx="2231.6" cy="1507.5" fill="#abf69b"/>
<circle cx="2234.8" cy="1505.6" fill="#acf59a"/>
<circle cx="2237.9" cy="1503.7" fill="#aef498"/>
<circle cx="2241.1" cy="1501.9" fill="#b0f397"/>
<circle cx="2244.2" cy="1500.7" fill="#b2f396"/>
<circle cx="2247.3" cy="1502.3" fill="#b2f396"/>
<circle cx="2250.5" cy="1505.6" fill="#b4f295"/>
<circle cx="2253.6" cy="1508.6" fill="#b6f193"/>
<circle cx="2256.8" cy="1509.7" fill="#b9ef92"/>
<circle cx="2259.9" cy="1507.5" fill="#bbee91"/>
<circle cx="2263.0" cy="1502.6" fill="#bced8f"/>
<circle cx="2266.2" cy="1495.6" fill="#beec8e"/>
<circle cx="2269.3" cy="1490.1" fill="#c0eb8d"/>
<circle cx="2272.5" cy="1488.5" fill="#c0eb8d"/>
<circle cx="2275.6" cy="1489.6" fill="#c2ea8c"/>
<circle cx="2278.7" cy="1492.3" fill="#c4e88a"/>
<circle cx="2281.9" cy="1497.2" fill="#c6e789"/>
<circle cx="2285.0" cy="1506.2" fill="#c8e688"/>
<circle cx="2288.2" cy="1516.0" fill="#cbe486"/>
<circle cx="2291.3" cy="1521.8" fill="#cce385"/>
<circle cx="2294.4" cy="1522.2" fill="#cce385"/>
<circle cx="2297.6" cy="1518.1" fill="#cee184"/>
<circle cx="2300.7" cy="1511.8" fill="#d0e082"/>
<circle cx="2303.9" cy="1507.0" fill="#d2de81"/>
<circle cx="2307.0" cy="1504.8" fill="#d4dd80"/>
<circle cx="2310.1" cy="1507.5" fill="#d6db7e"/>
<circle cx="2313.3" cy="1514.0" fill="#d9da7d"/>
<circle cx="2316.4" cy="1523.8" fill="#d9da7d"/>
<circle cx="2319.6" cy="1534.6" fill="#dbd87b"/>
<circle cx="2322.7" cy="1543.5" fill="#dcd67a"/>
<circle cx="2325.8" cy="1549.6" fill="#ded579"/>
<circle cx="2329.0" cy="1552.4" fill="#e0d377"/>
<circle cx="2332.1" cy="1552.5" fill="#e2d176"/>
<circle cx="2335.3" cy="1551.4" fill="#e4cf74"/>
<circle cx="2338.4" cy="1548.2" fill="#e6cd73"/>
<circle cx="2341.5" cy="1543.3" fill="#e6cd73"/>
<circle cx="2344.7" cy="1538.8" fill="#e8cb72"/>
<circle cx="2347.8" cy="1535.5" fill="#ebca70"/>
<circle cx="2351.0" cy="1533.3" fill="#ecc86f"/>
<circle cx="2354.1" cy="1533.0" fill="#eec66d"/>
<circle cx="2357.2" cy="1535.7" fill="#f0c46c"/>
<circle cx="2360.4" cy="1540.1" fill="#f2c26b"/>
<circle cx="2363.5" cy="1543.1" fill="#f2c26b"/>
<circle cx="2366.7" cy="1544.4" fill="#f4c069"/>
<circle cx="2369.8" cy="1543.9" fill="#f6be68"/>
<circle cx="2372.9" cy="1542.0" fill="#f9bb66"/>
<circle cx="2376.1" cy="1537.9" fill="#fbb965"/>
<circle cx="2379.2" cy="1534.1" fill="#fcb763"/>
<circle cx="2382.4" cy="1530.8" fill="#feb562"/>
<circle cx="2385.5" cy="1527.6" fill="#ffb360"/>
<circle cx="2388.6" cy="1525.9" fill="#ffb360"/>
<circle cx="2391.8" cy="1525.1" fill="#ffb05f"/>
<circle cx="2394.9" cy="1524.6" fill="#ffae5e"/>
<circle cx="2398.1" cy="1525.1" fill="#ffac5c"/>
<circle cx="2401.2" cy="1526.8" fill="#ffa95b"/>
<circle cx="2404.3" cy="1529.2" fill="#ffa759"/>
<circle cx="2407.5" cy="1531.6" fill="#ffa558"/>
<circle cx="2410.6" cy="1534.4" fill="#ffa558"/>
<circle cx="2413.8" cy="1536.3" fill="#ffa256"/>
<circle cx="2416.9" cy="1536.6" fill="#ffa055"/>
<circle cx="2420.0" cy="1535.2" fill="#ff9d53"/>
<circle cx="2423.2" cy="1531.9" fill="#ff9b52"/>
<circle cx="2426.3" cy="1528.1" fill="#ff9850"/>
<circle cx="2429.5" cy="1523.8" fill="#ff964f"/>
<circle cx="2432.6" cy="1520.0" fill="#ff964f"/>
<circle cx="2435.7" cy="1518.4" fill="#ff934d"/>
<circle cx="2438.9" cy="1517.8" fill="#ff914c"/>
<circle cx="2442.0" cy="1518.1" fill="#ff8e4a"/>
<circle cx="2445.2" cy="1518.9" fill="#ff8c49"/>
<circle cx="2448.3" cy="1520.5" fill="#ff8947"/>
<circle cx="2451.4" cy="1522.5" fill="#ff8646"/>
<circle cx="2454.6" cy="1524.3" fill="#ff8444"/>
<circle cx="2457.7" cy="1525.4" fill="#ff8444"/>
<circle cx="2460.9" cy="1525.7" fill="#ff8143"/>
<circle cx="2464.0" cy="1525.1" fill="#ff7e41"/>
<circle cx="2467.1" cy="1523.6" fill="#ff7b40"/>
<circle cx="2470.3" cy="1520.5" fill="#ff793e"/>
<circle cx="2473.4" cy="1514.9" fill="#ff763d"/>
<circle cx="2476.6" cy="1508.8" fill="#ff733b"/>
<circle cx="2479.7" cy="1504.2" fill="#ff733b"/>
<circle cx="2482.8" cy="1500.8" fill="#ff703a"/>
<circle cx="2486.0" cy="1498.6" fill="#ff6d38"/>
<circle cx="2489.1" cy="1498.3" fill="#ff6b37"/>
<circle cx="2492.3" cy="1500.8" fill="#ff6835"/>
<circle cx="2495.4" cy="1505.3" fill="#ff6533"/>
<circle cx="2498.5" cy="1509.5" fill="#ff6232"/>
<circle cx="2501.7" cy="1511.6" fill="#ff5f30"/>
<circle cx="2504.8" cy="1511.8" fill="#ff5f30"/>
<circle cx="2508.0" cy="1509.7" fill="#ff5c2f"/>
<circle cx="2511.1" cy="1505.6" fill="#ff592d"/>
<circle cx="2514.2" cy="1499.9" fill="#ff562c"/>
<circle cx="2517.4" cy="1493.9" fill="#ff532a"/>
<circle cx="2520.5" cy="1487.8" fill="#ff5029"/>
<circle cx="2523.7" cy="1482.5" fill="#ff4d27"/>
<circle cx="2526.8" cy="1479.5" fill="#ff4d27"/>
<circle cx="2529.9" cy="1479.1" fill="#ff4a26"/>
<circle cx="2533.1" cy="1484.2" fill="#ff4724"/>
<circle cx="2536.2" cy="1492.3" fill="#ff4422"/>
<circle cx="2539.4" cy="1500.1" fill="#ff4121"/>
<circle cx="2542.5" cy="1504.8" fill="#ff3e1f"/>
<circle cx="2545.6" cy="1507.0" fill="#ff3b1e"/>
<circle cx="2548.8" cy="1507.5" fill="#ff3b1e"/>
<circle cx="2551.9" cy="1506.6" fill="#ff381c"/>
<circle cx="2555.1" cy="1505.9" fill="#ff351b"/>
<circle cx="2558.2" cy="1505.9" fill="#ff3219"/>
<circle cx="2561.3" cy="1506.6" fill="#ff2f18"/>
<circle cx="2564.5" cy="1508.6" fill="#ff2c16"/>
<circle cx="2567.6" cy="1511.0" fill="#ff2914"/>
<circle cx="2570.8" cy="1512.7" fill="#ff2613"/>
<circle cx="2573.9" cy="1514.0" fill="#ff2613"/>
<circle cx="2577.0" cy="1515.6" fill="#ff2211"/>
<circle cx="2580.2" cy="1518.1" fill="#ff1f10"/>
<circle cx="2583.3" cy="1520.5" fill="#ff1c0e"/>
<circle cx="2586.5" cy="1522.5" fill="#ff190d"/>
<circle cx="2589.6" cy="1523.6" fill="#ff160b"/>
<circle cx="2592.7" cy="1524.0" fill="#ff1309"/>
<circle cx="2595.9" cy="1524.9" fill="#ff1309"/>
<circle cx="2599.0" cy="1525.9" fill="#ff1008"/>
<circle cx="2602.2" cy="1527.3" fill="#ff0d06"/>
<circle cx="2605.3" cy="1528.3" fill="#ff0905"/>
<circle cx="2608.4" cy="1529.7" fill="#ff0603"/>
<circle cx="2611.6" cy="1531.4" fill="#ff0302"/>
<circle cx="2614.7" cy="1533.0" fill="#ff0000"/>
<circle cx="2617.9" cy="1534.4" fill="#ff0000"/></g>
<g class="au"><circle cx="1688.4" cy="1559.9" fill="#ff0000"/>
<circle cx="1691.6" cy="1559.3" fill="#ff0000"/>
<circle cx="1694.7" cy="1558.8" fill="#ff0100"/>
<circle cx="1697.8" cy="1558.0" fill="#ff0200"/>
<circle cx="1701.0" cy="1557.0" fill="#ff0300"/>
<circle cx="1704.1" cy="1556.1" fill="#ff0400"/>
<circle cx="1707.3" cy="1555.6" fill="#ff0500"/>
<circle cx="1710.4" cy="1555.9" fill="#ff0600"/>
<circle cx="1713.5" cy="1557.2" fill="#ff0600"/>
<circle cx="1716.7" cy="1560.4" fill="#ff0700"/>
<circle cx="1719.8" cy="1565.9" fill="#ff0800"/>
<circle cx="1723.0" cy="1571.3" fill="#ff0900"/>
<circle cx="1726.1" cy="1576.5" fill="#ff0a00"/>
<circle cx="1729.2" cy="1581.0" fill="#ff0b00"/>
<circle cx="1732.4" cy="1584.3" fill="#ff0c00"/>
<circle cx="1735.5" cy="1585.9" fill="#ff0c00"/>
<circle cx="1738.7" cy="1585.4" fill="#ff0d00"/>
<circle cx="1741.8" cy="1582.7" fill="#ff0e00"/>
<circle cx="1744.9" cy="1579.4" fill="#ff0f00"/>
<circle cx="1748.1" cy="1577.3" fill="#ff1000"/>
<circle cx="1751.2" cy="1576.9" fill="#ff1100"/>
<circle cx="1754.4" cy="1578.7" fill="#ff1200"/>
<circle cx="1757.5" cy="1582.4" fill="#ff1300"/>
<circle cx="1760.6" cy="1588.4" fill="#ff1300"/>
<circle cx="1763.8" cy="1595.7" fill="#ff1400"/>
<circle cx="1766.9" cy="1604.0" fill="#ff1500"/>
<circle cx="1770.1" cy="1612.0" fill="#ff1600"/>
<circle cx="1773.2" cy="1619.3" fill="#ff1700"/>
<circle cx="1776.3" cy="1625.8" fill="#ff1800"/>
<circle cx="1779.5" cy="1630.4" fill="#ff1900"/>
<circle cx="1782.6" cy="1633.6" fill="#ff1900"/>
<circle cx="1785.8" cy="1634.9" fill="#ff1a00"/>
<circle cx="1788.9" cy="1634.7" fill="#ff1b00"/>
<circle cx="1792.0" cy="1633.9" fill="#ff1c00"/>
<circle cx="1795.2" cy="1633.4" fill="#ff1d00"/>
<circle cx="1798.3" cy="1634.5" fill="#ff1e00"/>
<circle cx="1801.5" cy="1637.4" fill="#ff1f00"/>
<circle cx="1804.6" cy="1642.3" fill="#ff2000"/>
<circle cx="1807.7" cy="1649.4" fill="#ff2000"/>
<circle cx="1810.9" cy="1658.6" fill="#ff2100"/>
<circle cx="1814.0" cy="1667.5" fill="#ff2200"/>
<circle cx="1817.2" cy="1674.9" fill="#ff2300"/>
<circle cx="1820.3" cy="1680.8" fill="#ff2400"/>
<circle cx="1823.4" cy="1684.1" fill="#ff2500"/>
<circle cx="1826.6" cy="1684.8" fill="#ff2600"/>
<circle cx="1829.7" cy="1683.3" fill="#ff2600"/>
<circle cx="1832.9" cy="1681.2" fill="#ff2700"/>
<circle cx="1836.0" cy="1680.1" fill="#ff2800"/>
<circle cx="1839.1" cy="1680.3" fill="#ff2900"/>
<circle cx="1842.3" cy="1682.7" fill="#ff2a00"/>
<circle cx="1845.4" cy="1688.1" fill="#ff2b00"/>
<circle cx="1848.6" cy="1696.2" fill="#ff2c00"/>
<circle cx="1851.7" cy="1704.7" fill="#ff2c00"/>
<circle cx="1854.8" cy="1712.3" fill="#ff2d00"/>
<circle cx="1858.0" cy="1718.3" fill="#ff2e00"/>
<circle cx="1861.1" cy="1722.1" fill="#ff2f00"/>
<circle cx="1864.3" cy="1723.5" fill="#ff3000"/>
<circle cx="1867.4" cy="1722.1" fill="#ff3100"/>
<circle cx="1870.5" cy="1718.8" fill="#ff3200"/>
<circle cx="1873.7" cy="1715.6" fill="#ff3300"/>
<circle cx="1876.8" cy="1714.1" fill="#ff3300"/>
<circle cx="1880.0" cy="1714.5" fill="#ff3400"/>
<circle cx="1883.1" cy="1717.7" fill="#ff3500"/>
<circle cx="1886.2" cy="1724.3" fill="#ff3600"/>
<circle cx="1889.4" cy="1733.5" fill="#ff3700"/>
<circle cx="1892.5" cy="1743.2" fill="#ff3800"/>
<circle cx="1895.7" cy="1751.7" fill="#ff3900"/>
<circle cx="1898.8" cy="1758.6" fill="#ff3900"/>
<circle cx="1901.9" cy="1761.6" fill="#ff3a00"/>
<circle cx="1905.1" cy="1762.5" fill="#ff3b00"/>
<circle cx="1908.2" cy="1762.0" fill="#ff3c00"/>
<circle cx="1911.4" cy="1761.2" fill="#ff3d00"/>
<circle cx="1914.5" cy="1759.3" fill="#ff3e00"/>
<circle cx="1917.6" cy="1756.9" fill="#ff3f00"/>
<circle cx="1920.8" cy="1754.5" fill="#ff4000"/>
<circle cx="1923.9" cy="1752.3" fill="#ff4000"/>
<circle cx="1927.1" cy="1750.6" fill="#ff4100"/>
<circle cx="1930.2" cy="1749.1" fill="#ff4200"/>
<circle cx="1933.3" cy="1747.7" fill="#ff4300"/>
<circle cx="1936.5" cy="1749.1" fill="#ff4400"/>
<circle cx="1939.6" cy="1753.9" fill="#ff4500"/>
<circle cx="1942.8" cy="1762.3" fill="#ff4600"/>
<circle cx="1945.9" cy="1771.8" fill="#ff4600"/>
<circle cx="1949.0" cy="1779.9" fill="#ff4700"/>
<circle cx="1952.2" cy="1785.1" fill="#ff4800"/>
<circle cx="1955.3" cy="1787.8" fill="#ff4900"/>
<circle cx="1958.5" cy="1788.9" fill="#ff4a00"/>
<circle cx="1961.6" cy="1788.6" fill="#ff4b00"/>
<circle cx="1964.7" cy="1787.1" fill="#ff4c00"/>
<circle cx="1967.9" cy="1784.8" fill="#ff4c00"/>
<circle cx="1971.0" cy="1782.1" fill="#ff4d00"/>
<circle cx="1974.2" cy="1779.5" fill="#ff4e00"/>
<circle cx="1977.3" cy="1777.5" fill="#ff4f00"/>
<circle cx="1980.4" cy="1776.6" fill="#ff5000"/>
<circle cx="1983.6" cy="1777.3" fill="#ff5100"/>
<circle cx="1986.7" cy="1779.7" fill="#ff5200"/>
<circle cx="1989.9" cy="1784.6" fill="#ff5300"/>
<circle cx="1993.0" cy="1790.7" fill="#ff5300"/>
<circle cx="1996.1" cy="1797.3" fill="#ff5400"/>
<circle cx="1999.3" cy="1802.5" fill="#ff5500"/>
<circle cx="2002.4" cy="1805.2" fill="#ff5600"/>
<circle cx="2005.6" cy="1806.6" fill="#ff5700"/>
<circle cx="2008.7" cy="1807.3" fill="#ff5800"/>
<circle cx="2011.8" cy="1807.7" fill="#ff5900"/>
<circle cx="2015.0" cy="1809.0" fill="#ff5900"/>
<circle cx="2018.1" cy="1810.1" fill="#ff5a00"/>
<circle cx="2021.3" cy="1809.8" fill="#ff5b00"/>
<circle cx="2024.4" cy="1808.4" fill="#ff5c00"/>
<circle cx="2027.5" cy="1806.3" fill="#ff5d00"/>
<circle cx="2030.7" cy="1805.5" fill="#ff5e00"/>
<circle cx="2033.8" cy="1806.3" fill="#ff5f00"/>
<circle cx="2037.0" cy="1807.1" fill="#ff6000"/>
<circle cx="2040.1" cy="1806.3" fill="#ff6000"/>
<circle cx="2043.2" cy="1804.4" fill="#ff6100"/>
<circle cx="2046.4" cy="1805.2" fill="#ff6200"/>
<circle cx="2049.5" cy="1808.4" fill="#ff6300"/>
<circle cx="2052.7" cy="1813.1" fill="#ff6400"/>
<circle cx="2055.8" cy="1819.8" fill="#ff6500"/>
<circle cx="2058.9" cy="1828.8" fill="#ff6600"/>
<circle cx="2062.1" cy="1839.9" fill="#ff6600"/>
<circle cx="2065.2" cy="1851.1" fill="#ff6700"/>
<circle cx="2068.4" cy="1861.6" fill="#ff6800"/>
<circle cx="2071.5" cy="1869.9" fill="#ff6900"/>
<circle cx="2074.6" cy="1874.6" fill="#ff6a00"/>
<circle cx="2077.8" cy="1876.0" fill="#ff6b00"/>
<circle cx="2080.9" cy="1873.9" fill="#ff6c00"/>
<circle cx="2084.1" cy="1869.2" fill="#ff6c00"/>
<circle cx="2087.2" cy="1866.3" fill="#ff6d00"/>
<circle cx="2090.3" cy="1864.9" fill="#ff6e00"/>
<circle cx="2093.5" cy="1864.9" fill="#ff6f00"/>
<circle cx="2096.6" cy="1864.8" fill="#ff7000"/>
<circle cx="2099.8" cy="1865.1" fill="#ff7100"/>
<circle cx="2102.9" cy="1864.8" fill="#ff7200"/>
<circle cx="2106.0" cy="1864.4" fill="#ff7300"/>
<circle cx="2109.2" cy="1863.0" fill="#ff7300"/>
<circle cx="2112.3" cy="1861.6" fill="#ff7400"/>
<circle cx="2115.5" cy="1863.0" fill="#ff7500"/>
<circle cx="2118.6" cy="1865.9" fill="#ff7600"/>
<circle cx="2121.7" cy="1868.9" fill="#ff7700"/>
<circle cx="2124.9" cy="1870.5" fill="#ff7800"/>
<circle cx="2128.0" cy="1871.1" fill="#ff7900"/>
<circle cx="2131.2" cy="1871.1" fill="#ff7900"/>
<circle cx="2134.3" cy="1870.7" fill="#ff7a00"/>
<circle cx="2137.4" cy="1870.5" fill="#ff7b00"/>
<circle cx="2140.6" cy="1871.1" fill="#ff7c00"/>
<circle cx="2143.7" cy="1871.8" fill="#ff7d00"/>
<circle cx="2146.9" cy="1872.5" fill="#ff7e00"/>
<circle cx="2150.0" cy="1872.7" fill="#ff7f00"/>
<circle cx="2153.1" cy="1872.5" fill="#ff8000"/>
<circle cx="2156.3" cy="1871.6" fill="#ff8000"/>
<circle cx="2159.4" cy="1870.0" fill="#ff8100"/>
<circle cx="2162.6" cy="1868.1" fill="#ff8200"/>
<circle cx="2165.7" cy="1866.7" fill="#ff8300"/>
<circle cx="2168.8" cy="1866.0" fill="#ff8400"/>
<circle cx="2172.0" cy="1866.0" fill="#ff8500"/>
<circle cx="2175.1" cy="1866.4" fill="#ff8600"/>
<circle cx="2178.3" cy="1866.7" fill="#ff8600"/>
<circle cx="2181.4" cy="1867.3" fill="#ff8700"/>
<circle cx="2184.5" cy="1867.4" fill="#ff8800"/>
<circle cx="2187.7" cy="1867.3" fill="#ff8900"/>
<circle cx="2190.8" cy="1867.1" fill="#ff8a00"/>
<circle cx="2194.0" cy="1866.7" fill="#ff8b00"/>
<circle cx="2197.1" cy="1866.2" fill="#ff8c00"/>
<circle cx="2200.2" cy="1865.3" fill="#ff8c00"/>
<circle cx="2203.4" cy="1863.5" fill="#ff8d00"/>
<circle cx="2206.5" cy="1861.6" fill="#ff8e00"/>
<circle cx="2209.7" cy="1860.2" fill="#ff8f00"/>
<circle cx="2212.8" cy="1859.5" fill="#ff9000"/>
<circle cx="2215.9" cy="1859.9" fill="#ff9100"/>
<circle cx="2219.1" cy="1860.5" fill="#ff9200"/>
<circle cx="2222.2" cy="1860.2" fill="#ff9300"/>
<circle cx="2225.4" cy="1859.7" fill="#ff9300"/>
<circle cx="2228.5" cy="1859.7" fill="#ff9400"/>
<circle cx="2231.6" cy="1860.8" fill="#ff9500"/>
<circle cx="2234.8" cy="1863.5" fill="#ff9600"/>
<circle cx="2237.9" cy="1866.4" fill="#ff9700"/>
<circle cx="2241.1" cy="1869.4" fill="#ff9800"/>
<circle cx="2244.2" cy="1871.8" fill="#ff9900"/>
<circle cx="2247.3" cy="1874.3" fill="#ff9900"/>
<circle cx="2250.5" cy="1876.5" fill="#ff9a00"/>
<circle cx="2253.6" cy="1878.3" fill="#ff9b00"/>
<circle cx="2256.8" cy="1879.2" fill="#ff9c00"/>
<circle cx="2259.9" cy="1878.7" fill="#ff9d00"/>
<circle cx="2263.0" cy="1877.9" fill="#ff9e00"/>
<circle cx="2266.2" cy="1877.6" fill="#ff9f00"/>
<circle cx="2269.3" cy="1879.0" fill="#ffa000"/>
<circle cx="2272.5" cy="1884.4" fill="#ffa000"/>
<circle cx="2275.6" cy="1891.4" fill="#ffa100"/>
<circle cx="2278.7" cy="1899.3" fill="#ffa200"/>
<circle cx="2281.9" cy="1906.1" fill="#ffa300"/>
<circle cx="2285.0" cy="1914.1" fill="#ffa400"/>
<circle cx="2288.2" cy="1922.6" fill="#ffa500"/>
<circle cx="2291.3" cy="1927.2" fill="#ffa600"/>
<circle cx="2294.4" cy="1927.5" fill="#ffa600"/>
<circle cx="2297.6" cy="1923.5" fill="#ffa700"/>
<circle cx="2300.7" cy="1917.2" fill="#ffa800"/>
<circle cx="2303.9" cy="1911.3" fill="#ffa900"/>
<circle cx="2307.0" cy="1908.6" fill="#ffaa00"/>
<circle cx="2310.1" cy="1910.6" fill="#ffab00"/>
<circle cx="2313.3" cy="1915.5" fill="#ffac00"/>
<circle cx="2316.4" cy="1923.8" fill="#ffac00"/>
<circle cx="2319.6" cy="1934.1" fill="#ffad00"/>
<circle cx="2322.7" cy="1942.3" fill="#ffae00"/>
<circle cx="2325.8" cy="1948.0" fill="#ffaf00"/>
<circle cx="2329.0" cy="1951.1" fill="#ffb000"/>
<circle cx="2332.1" cy="1951.8" fill="#ffb100"/>
<circle cx="2335.3" cy="1950.9" fill="#ffb200"/>
<circle cx="2338.4" cy="1948.5" fill="#ffb300"/>
<circle cx="2341.5" cy="1945.2" fill="#ffb300"/>
<circle cx="2344.7" cy="1941.4" fill="#ffb400"/>
<circle cx="2347.8" cy="1938.2" fill="#ffb500"/>
<circle cx="2351.0" cy="1936.0" fill="#ffb600"/>
<circle cx="2354.1" cy="1935.3" fill="#ffb700"/>
<circle cx="2357.2" cy="1935.5" fill="#ffb800"/>
<circle cx="2360.4" cy="1937.1" fill="#ffb900"/>
<circle cx="2363.5" cy="1939.0" fill="#ffb900"/>
<circle cx="2366.7" cy="1940.0" fill="#ffba00"/>
<circle cx="2369.8" cy="1940.7" fill="#ffbb00"/>
<circle cx="2372.9" cy="1941.0" fill="#ffbc00"/>
<circle cx="2376.1" cy="1941.1" fill="#ffbd00"/>
<circle cx="2379.2" cy="1941.3" fill="#ffbe00"/>
<circle cx="2382.4" cy="1941.4" fill="#ffbf00"/>
<circle cx="2385.5" cy="1941.6" fill="#ffc000"/>
<circle cx="2388.6" cy="1941.7" fill="#ffc000"/>
<circle cx="2391.8" cy="1941.7" fill="#ffc100"/>
<circle cx="2394.9" cy="1941.8" fill="#ffc200"/>
<circle cx="2398.1" cy="1941.8" fill="#ffc300"/>
<circle cx="2401.2" cy="1941.8" fill="#ffc400"/>
<circle cx="2404.3" cy="1941.8" fill="#ffc500"/>
<circle cx="2407.5" cy="1941.7" fill="#ffc600"/>
<circle cx="2410.6" cy="1941.5" fill="#ffc600"/>
<circle cx="2413.8" cy="1941.1" fill="#ffc700"/>
<circle cx="2416.9" cy="1940.7" fill="#ffc800"/>
<circle cx="2420.0" cy="1940.4" fill="#ffc900"/>
<circle cx="2423.2" cy="1940.7" fill="#ffca00"/>
<circle cx="2426.3" cy="1941.8" fill="#ffcb00"/>
<circle cx="2429.5" cy="1943.3" fill="#ffcc00"/>
<circle cx="2432.6" cy="1944.7" fill="#ffcc00"/>
<circle cx="2435.7" cy="1945.8" fill="#ffcd00"/>
<circle cx="2438.9" cy="1946.3" fill="#ffce00"/>
<circle cx="2442.0" cy="1946.1" fill="#ffcf00"/>
<circle cx="2445.2" cy="1945.2" fill="#ffd000"/>
<circle cx="2448.3" cy="1944.2" fill="#ffd100"/>
<circle cx="2451.4" cy="1943.1" fill="#ffd200"/>
<circle cx="2454.6" cy="1942.5" fill="#ffd300"/>
<circle cx="2457.7" cy="1942.2" fill="#ffd300"/>
<circle cx="2460.9" cy="1942.3" fill="#ffd400"/>
<circle cx="2464.0" cy="1943.1" fill="#ffd500"/>
<circle cx="2467.1" cy="1944.7" fill="#ffd600"/>
<circle cx="2470.3" cy="1946.5" fill="#ffd700"/>
<circle cx="2473.4" cy="1948.3" fill="#ffd800"/>
<circle cx="2476.6" cy="1949.4" fill="#ffd900"/>
<circle cx="2479.7" cy="1949.9" fill="#ffd900"/>
<circle cx="2482.8" cy="1950.1" fill="#ffda00"/>
<circle cx="2486.0" cy="1949.9" fill="#ffdb00"/>
<circle cx="2489.1" cy="1949.0" fill="#ffdc00"/>
<circle cx="2492.3" cy="1948.3" fill="#ffdd00"/>
<circle cx="2495.4" cy="1947.4" fill="#ffde00"/>
<circle cx="2498.5" cy="1946.9" fill="#ffdf00"/>
<circle cx="2501.7" cy="1946.5" fill="#ffe000"/>
<circle cx="2504.8" cy="1946.9" fill="#ffe000"/>
<circle cx="2508.0" cy="1947.4" fill="#ffe100"/>
<circle cx="2511.1" cy="1948.0" fill="#ffe200"/>
<circle cx="2514.2" cy="1948.7" fill="#ffe300"/>
<circle cx="2517.4" cy="1949.8" fill="#ffe400"/>
<circle cx="2520.5" cy="1951.5" fill="#ffe500"/>
<circle cx="2523.7" cy="1953.4" fill="#ffe600"/>
<circle cx="2526.8" cy="1954.4" fill="#ffe600"/>
<circle cx="2529.9" cy="1955.6" fill="#ffe700"/>
<circle cx="2533.1" cy="1956.0" fill="#ffe800"/>
<circle cx="2536.2" cy="1955.3" fill="#ffe900"/>
<circle cx="2539.4" cy="1954.4" fill="#ffea00"/>
<circle cx="2542.5" cy="1952.6" fill="#ffeb00"/>
<circle cx="2545.6" cy="1950.9" fill="#ffec00"/>
<circle cx="2548.8" cy="1949.4" fill="#ffec00"/>
<circle cx="2551.9" cy="1948.3" fill="#ffed00"/>
<circle cx="2555.1" cy="1947.7" fill="#ffee00"/>
<circle cx="2558.2" cy="1947.6" fill="#ffef00"/>
<circle cx="2561.3" cy="1947.7" fill="#fff000"/>
<circle cx="2564.5" cy="1947.7" fill="#fff100"/>
<circle cx="2567.6" cy="1947.8" fill="#fff200"/>
<circle cx="2570.8" cy="1948.0" fill="#fff300"/>
<circle cx="2573.9" cy="1948.1" fill="#fff300"/>
<circle cx="2577.0" cy="1948.3" fill="#fff400"/>
<circle cx="2580.2" cy="1948.3" fill="#fff500"/>
<circle cx="2583.3" cy="1948.3" fill="#fff600"/>
<circle cx="2586.5" cy="1948.2" fill="#fff700"/>
<circle cx="2589.6" cy="1947.7" fill="#fff800"/>
<circle cx="2592.7" cy="1947.2" fill="#fff900"/>
<circle cx="2595.9" cy="1946.9" fill="#fff900"/>
<circle cx="2599.0" cy="1946.7" fill="#fffa00"/>
<circle cx="2602.2" cy="1946.7" fill="#fffb00"/>
<circle cx="2605.3" cy="1946.9" fill="#fffc00"/>
<circle cx="2608.4" cy="1947.2" fill="#fffd00"/>
<circle cx="2611.6" cy="1947.6" fill="#fffe00"/>
<circle cx="2614.7" cy="1948.3" fill="#ffff00"/>
<circle cx="2617.9" cy="1948.8" fill="#ffff00"/></g>
<path class="g" d="M1679 2002V1112M1836 2002V1112M1993 2002V1112M2150 2002V1112M2307 2002V1112M2464 2002V1112M2621 2002V1112M1679 1993H2621M1679 1849.5H2621M1679 1706H2621M1679 1562.5H2621M1679 1419H2621M1679 1275.5H2621M1679 1132H2621"/>
<path class="s" d="M1679 2002v8M1836 2002v8M1993 2002v8M2150 2002v8M2307 2002v8M2464 2002v8M2621 2002v8M1679 1993h-8M1679 1849.5h-8M1679 1706h-8M1679 1562.5h-8M1679 1419h-8M1679 1275.5h-8M1679 1132h-8"/>
<rect class="s" x="1679" y="1112" width="942" height="890"/>
<text class="r" x="1679.5" y="2059.3" font-size="55.3" text-anchor="middle">0</text>
<text class="r" x="1836.5" y="2059.3" font-size="55.3" text-anchor="middle">50</text>
<text class="r" x="1993.5" y="2059.3" font-size="55.3" text-anchor="middle">100</text>
<text class="r" x="2150.5" y="2059.3" font-size="55.3" text-anchor="middle">150</text>
<text class="r" x="2307.5" y="2059.3" font-size="55.3" text-anchor="middle">200</text>
<text class="r" x="2464.5" y="2059.3" font-size="55.3" text-anchor="middle">250</text>
<text class="r" x="2621.5" y="2059.3" font-size="55.3" text-anchor="middle">300</text>
<text class="r" x="1529.55" y="2014.2" font-size="55.3">−0.3</text>
<text class="r" x="1530.65" y="1870.7" font-size="55.3">−0.2</text>
<text class="r" x="1530.22" y="1727.2" font-size="55.3">−0.1</text>
<text class="r" x="1575.13" y="1583.7" font-size="55.3">0.0</text>
<text class="r" x="1576.56" y="1440.2" font-size="55.3">0.1</text>
<text class="r" x="1576.99" y="1296.7" font-size="55.3">0.2</text>
<text class="r" x="1575.88" y="1153.2" font-size="55.3">0.3</text>
<rect x="2627" y="1112" width="44" height="890" fill="url(#g1)"/>
<rect class="s" x="2627" y="1112" width="44" height="890"/>
<path class="s" d="M2671 1112h8M2671 1560.7h8"/>
<text class="r" x="2687.77" y="1126.8" font-size="40">299.0</text>
<text class="r" x="2686.31" y="1575.5" font-size="40">149.5</text>
<text class="i" x="2852.8" y="1627.52" font-size="55.56" transform="rotate(-90 2852.8 1627.52)">t</text>
<text class="r" x="2852.8" y="1587.74" font-size="55.56" transform="rotate(-90 2852.8 1587.74)">[</text>
<text class="i" x="2852.8" y="1566.08" font-size="55.56" transform="rotate(-90 2852.8 1566.08)">T</text>
<text class="r" x="2861.99" y="1532.18" font-size="38.89" transform="rotate(-90 2861.99 1532.18)">0</text>
<text class="r" x="2852.8" y="1505.93" font-size="55.56" transform="rotate(-90 2852.8 1505.93)">]</text>
<text class="i" x="2080.65" y="2123.8" font-size="55.56">t</text>
<text class="r" x="2120.43" y="2123.8" font-size="55.56">[</text>
<text class="i" x="2142.08" y="2123.8" font-size="55.56">T</text>
<text class="r" x="2175.98" y="2132.99" font-size="38.89">0</text>
<text class="r" x="2202.23" y="2123.8" font-size="55.56">]</text>
<text class="i" x="1507.2" y="1725.52" font-size="55.56" transform="rotate(-90 1507.2 1725.52)">E</text>
<text class="i" x="1507.2" y="1690.45" font-size="55.56" transform="rotate(-90 1507.2 1690.45)">k</text>
<text class="i" x="1507.2" y="1640.29" font-size="55.56" transform="rotate(-90 1507.2 1640.29)">W</text>
<text class="r" x="1507.2" y="1567.39" font-size="55.56" transform="rotate(-90 1507.2 1567.39)">[</text>
<text class="i" x="1507.2" y="1545.74" font-size="55.56" transform="rotate(-90 1507.2 1545.74)">m</text>
<text class="i" x="1516.39" y="1491.67" font-size="38.89" transform="rotate(-90 1516.39 1491.67)">e</text>
<text class="i" x="1507.2" y="1466.24" font-size="55.56" transform="rotate(-90 1507.2 1466.24)">c</text>
<text class="r" x="1485.76" y="1433.12" font-size="38.89" transform="rotate(-90 1485.76 1433.12)">2</text>
<text class="r" x="1507.2" y="1406.87" font-size="55.56" transform="rotate(-90 1507.2 1406.87)">]</text>
</svg>
</body></html>
